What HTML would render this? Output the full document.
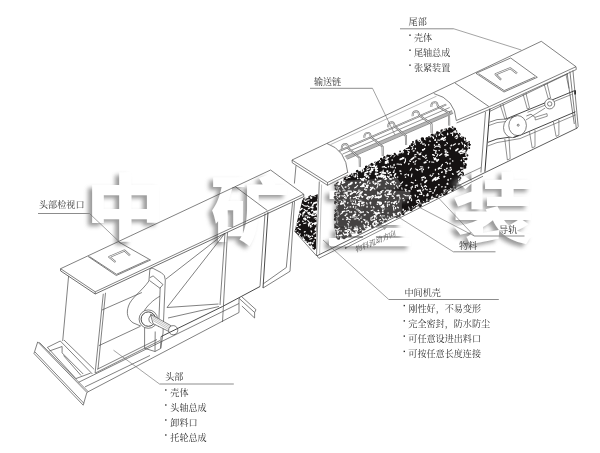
<!DOCTYPE html>
<html><head><meta charset="utf-8"><title>diagram</title>
<style>
html,body{margin:0;padding:0;background:#fff;font-family:"Liberation Sans",sans-serif;}
svg{display:block}
</style></head><body>
<svg width="600" height="453" viewBox="0 0 600 453">
<defs>
<filter id="b1" x="-20%" y="-20%" width="140%" height="140%"><feGaussianBlur stdDeviation="2.1"/></filter>
<filter id="b0" x="-20%" y="-20%" width="140%" height="140%"><feGaussianBlur stdDeviation="0.7"/></filter>
<g id="wm" font-family="'Liberation Sans','Noto Sans CJK SC',sans-serif" font-weight="900" font-size="100"><text transform="translate(85.6 233.5) scale(0.80 0.72)">中</text><text transform="translate(210.42 238.46) scale(0.7911 0.7396)">矿</text><text transform="translate(325.25 241.00) scale(0.8923 0.7351)">重</text><text transform="translate(452.35 236.64) scale(0.8229 0.7560)">装</text></g><mask id="wmm" maskUnits="userSpaceOnUse" x="0" y="0" width="600" height="453"><rect width="600" height="453" fill="#fff"/><use href="#wm" fill="#000" filter="url(#b0)"/></mask>
<filter id="tb" x="-5%" y="-5%" width="110%" height="110%"><feGaussianBlur stdDeviation="0.25"/></filter>
</defs>
<rect width="600" height="453" fill="#fff"/>
<path d="M337.0 184.0 L342.5 181.5 L350.0 177.0 L360.0 171.0 L369.0 166.5 L378.0 161.0 L388.0 157.5 L400.0 154.0 L409.0 148.0 L416.0 142.5 L424.0 140.0 L431.0 137.0 L440.0 133.5 L446.0 129.5 L450.0 127.5 L455.0 131.0 L462.0 137.0 L469.0 143.5 L467.0 150.0 L465.0 156.0 L463.5 165.0 L462.5 172.0 L459.0 180.0 L455.5 186.5 L440.0 194.5 L420.0 204.0 L400.0 213.5 L380.0 222.0 L360.0 230.0 L345.0 236.0 L337.5 238.0 L336.5 225.0 L336.5 205.0Z" fill="#151212" stroke="#111" stroke-width="0.6" stroke-linejoin="round"/>
<path d="M334.2 185.2a1.5 1.5 0 1 0 3.0 0a1.5 1.5 0 1 0 -3.0 0M336.7 183.2a1.3 1.3 0 1 0 2.5 0a1.3 1.3 0 1 0 -2.5 0M340.2 183.3a1.0 1.0 0 1 0 2.0 0a1.0 1.0 0 1 0 -2.0 0M339.7 182.6a1.2 1.2 0 1 0 2.5 0a1.2 1.2 0 1 0 -2.5 0M343.6 178.9a1.3 1.3 0 1 0 2.5 0a1.3 1.3 0 1 0 -2.5 0M344.6 178.8a1.7 1.7 0 1 0 3.3 0a1.7 1.7 0 1 0 -3.3 0M347.4 177.2a0.9 0.9 0 1 0 1.8 0a0.9 0.9 0 1 0 -1.8 0M347.4 179.4a1.2 1.2 0 1 0 2.4 0a1.2 1.2 0 1 0 -2.4 0M348.1 176.7a0.9 0.9 0 1 0 1.8 0a0.9 0.9 0 1 0 -1.8 0M349.2 175.9a1.3 1.3 0 1 0 2.6 0a1.3 1.3 0 1 0 -2.6 0M350.9 174.4a1.1 1.1 0 1 0 2.2 0a1.1 1.1 0 1 0 -2.2 0M353.2 173.7a0.9 0.9 0 1 0 1.8 0a0.9 0.9 0 1 0 -1.8 0M355.4 173.8a1.4 1.4 0 1 0 2.8 0a1.4 1.4 0 1 0 -2.8 0M354.5 174.4a1.6 1.6 0 1 0 3.2 0a1.6 1.6 0 1 0 -3.2 0M355.8 171.3a1.5 1.5 0 1 0 3.0 0a1.5 1.5 0 1 0 -3.0 0M359.5 172.5a1.2 1.2 0 1 0 2.5 0a1.2 1.2 0 1 0 -2.5 0M361.5 170.8a1.1 1.1 0 1 0 2.3 0a1.1 1.1 0 1 0 -2.3 0M361.7 170.8a1.6 1.6 0 1 0 3.2 0a1.6 1.6 0 1 0 -3.2 0M363.6 169.1a0.9 0.9 0 1 0 1.9 0a0.9 0.9 0 1 0 -1.9 0M363.9 169.0a1.2 1.2 0 1 0 2.5 0a1.2 1.2 0 1 0 -2.5 0M364.9 167.4a1.5 1.5 0 1 0 2.9 0a1.5 1.5 0 1 0 -2.9 0M368.3 166.1a1.3 1.3 0 1 0 2.5 0a1.3 1.3 0 1 0 -2.5 0M369.2 166.5a1.3 1.3 0 1 0 2.6 0a1.3 1.3 0 1 0 -2.6 0M370.7 164.6a0.9 0.9 0 1 0 1.8 0a0.9 0.9 0 1 0 -1.8 0M370.3 164.4a1.7 1.7 0 1 0 3.4 0a1.7 1.7 0 1 0 -3.4 0M374.3 162.5a1.0 1.0 0 1 0 2.1 0a1.0 1.0 0 1 0 -2.1 0M375.0 163.6a1.5 1.5 0 1 0 3.0 0a1.5 1.5 0 1 0 -3.0 0M377.0 162.2a1.1 1.1 0 1 0 2.2 0a1.1 1.1 0 1 0 -2.2 0M378.4 162.0a1.4 1.4 0 1 0 2.7 0a1.4 1.4 0 1 0 -2.7 0M379.9 159.0a1.3 1.3 0 1 0 2.7 0a1.3 1.3 0 1 0 -2.7 0M383.0 157.6a1.5 1.5 0 1 0 3.1 0a1.5 1.5 0 1 0 -3.1 0M384.3 160.0a1.5 1.5 0 1 0 3.0 0a1.5 1.5 0 1 0 -3.0 0M386.0 158.1a1.3 1.3 0 1 0 2.7 0a1.3 1.3 0 1 0 -2.7 0M386.2 156.0a1.6 1.6 0 1 0 3.2 0a1.6 1.6 0 1 0 -3.2 0M388.6 156.0a1.3 1.3 0 1 0 2.6 0a1.3 1.3 0 1 0 -2.6 0M390.2 156.0a1.2 1.2 0 1 0 2.4 0a1.2 1.2 0 1 0 -2.4 0M391.9 156.4a1.4 1.4 0 1 0 2.8 0a1.4 1.4 0 1 0 -2.8 0M393.6 153.9a1.1 1.1 0 1 0 2.2 0a1.1 1.1 0 1 0 -2.2 0M393.9 155.3a1.6 1.6 0 1 0 3.2 0a1.6 1.6 0 1 0 -3.2 0M397.7 155.5a1.6 1.6 0 1 0 3.1 0a1.6 1.6 0 1 0 -3.1 0M397.7 155.2a1.4 1.4 0 1 0 2.9 0a1.4 1.4 0 1 0 -2.9 0M399.2 151.4a0.9 0.9 0 1 0 1.8 0a0.9 0.9 0 1 0 -1.8 0M402.9 151.1a1.0 1.0 0 1 0 2.0 0a1.0 1.0 0 1 0 -2.0 0M404.0 150.5a1.0 1.0 0 1 0 1.9 0a1.0 1.0 0 1 0 -1.9 0M403.8 150.1a1.0 1.0 0 1 0 2.1 0a1.0 1.0 0 1 0 -2.1 0M405.5 149.7a1.3 1.3 0 1 0 2.5 0a1.3 1.3 0 1 0 -2.5 0M407.5 147.9a0.9 0.9 0 1 0 1.8 0a0.9 0.9 0 1 0 -1.8 0M409.0 146.6a1.1 1.1 0 1 0 2.1 0a1.1 1.1 0 1 0 -2.1 0M409.2 147.2a1.3 1.3 0 1 0 2.6 0a1.3 1.3 0 1 0 -2.6 0M410.7 145.1a1.6 1.6 0 1 0 3.1 0a1.6 1.6 0 1 0 -3.1 0M412.0 142.0a1.0 1.0 0 1 0 2.0 0a1.0 1.0 0 1 0 -2.0 0M415.3 141.3a1.5 1.5 0 1 0 2.9 0a1.5 1.5 0 1 0 -2.9 0M417.1 142.2a1.1 1.1 0 1 0 2.2 0a1.1 1.1 0 1 0 -2.2 0M419.5 142.5a1.3 1.3 0 1 0 2.6 0a1.3 1.3 0 1 0 -2.6 0M418.6 141.5a1.2 1.2 0 1 0 2.4 0a1.2 1.2 0 1 0 -2.4 0M421.3 139.9a1.4 1.4 0 1 0 2.8 0a1.4 1.4 0 1 0 -2.8 0M420.8 139.3a1.7 1.7 0 1 0 3.3 0a1.7 1.7 0 1 0 -3.3 0M425.4 138.6a1.6 1.6 0 1 0 3.2 0a1.6 1.6 0 1 0 -3.2 0M425.4 140.0a1.5 1.5 0 1 0 3.0 0a1.5 1.5 0 1 0 -3.0 0M428.1 136.9a0.9 0.9 0 1 0 1.8 0a0.9 0.9 0 1 0 -1.8 0M430.7 135.4a1.6 1.6 0 1 0 3.1 0a1.6 1.6 0 1 0 -3.1 0M433.0 136.7a1.0 1.0 0 1 0 2.1 0a1.0 1.0 0 1 0 -2.1 0M433.8 137.4a1.5 1.5 0 1 0 2.9 0a1.5 1.5 0 1 0 -2.9 0M434.4 134.8a1.2 1.2 0 1 0 2.4 0a1.2 1.2 0 1 0 -2.4 0M434.8 135.3a1.2 1.2 0 1 0 2.5 0a1.2 1.2 0 1 0 -2.5 0M436.0 132.7a1.4 1.4 0 1 0 2.9 0a1.4 1.4 0 1 0 -2.9 0M438.1 133.5a1.2 1.2 0 1 0 2.3 0a1.2 1.2 0 1 0 -2.3 0M441.8 133.9a0.9 0.9 0 1 0 1.8 0a0.9 0.9 0 1 0 -1.8 0M440.3 130.9a1.7 1.7 0 1 0 3.4 0a1.7 1.7 0 1 0 -3.4 0M444.4 130.0a1.1 1.1 0 1 0 2.1 0a1.1 1.1 0 1 0 -2.1 0M444.9 130.6a1.6 1.6 0 1 0 3.3 0a1.6 1.6 0 1 0 -3.3 0M446.0 129.8a1.4 1.4 0 1 0 2.9 0a1.4 1.4 0 1 0 -2.9 0M448.9 129.2a1.1 1.1 0 1 0 2.2 0a1.1 1.1 0 1 0 -2.2 0M451.4 127.3a1.0 1.0 0 1 0 2.1 0a1.0 1.0 0 1 0 -2.1 0M453.2 128.9a1.5 1.5 0 1 0 3.0 0a1.5 1.5 0 1 0 -3.0 0M454.1 132.2a1.2 1.2 0 1 0 2.4 0a1.2 1.2 0 1 0 -2.4 0M454.3 131.5a1.6 1.6 0 1 0 3.2 0a1.6 1.6 0 1 0 -3.2 0M456.5 134.9a1.6 1.6 0 1 0 3.2 0a1.6 1.6 0 1 0 -3.2 0M457.0 134.8a1.0 1.0 0 1 0 2.0 0a1.0 1.0 0 1 0 -2.0 0M457.4 134.3a1.6 1.6 0 1 0 3.2 0a1.6 1.6 0 1 0 -3.2 0M461.8 138.1a1.2 1.2 0 1 0 2.3 0a1.2 1.2 0 1 0 -2.3 0M462.6 139.3a1.2 1.2 0 1 0 2.4 0a1.2 1.2 0 1 0 -2.4 0M464.1 138.7a1.0 1.0 0 1 0 1.9 0a1.0 1.0 0 1 0 -1.9 0M464.1 142.2a1.4 1.4 0 1 0 2.7 0a1.4 1.4 0 1 0 -2.7 0M467.9 142.1a1.1 1.1 0 1 0 2.2 0a1.1 1.1 0 1 0 -2.2 0M469.1 144.6a0.9 0.9 0 1 0 1.8 0a0.9 0.9 0 1 0 -1.8 0M468.1 143.7a1.0 1.0 0 1 0 2.0 0a1.0 1.0 0 1 0 -2.0 0M468.2 145.2a1.1 1.1 0 1 0 2.2 0a1.1 1.1 0 1 0 -2.2 0M468.2 148.1a1.0 1.0 0 1 0 2.0 0a1.0 1.0 0 1 0 -2.0 0M464.4 149.1a1.5 1.5 0 1 0 3.0 0a1.5 1.5 0 1 0 -3.0 0M463.8 153.4a1.2 1.2 0 1 0 2.4 0a1.2 1.2 0 1 0 -2.4 0M466.1 155.4a1.1 1.1 0 1 0 2.3 0a1.1 1.1 0 1 0 -2.3 0M463.2 155.9a1.0 1.0 0 1 0 2.0 0a1.0 1.0 0 1 0 -2.0 0M464.3 156.2a0.9 0.9 0 1 0 1.8 0a0.9 0.9 0 1 0 -1.8 0M464.7 158.9a1.4 1.4 0 1 0 2.8 0a1.4 1.4 0 1 0 -2.8 0M463.0 160.8a1.0 1.0 0 1 0 1.9 0a1.0 1.0 0 1 0 -1.9 0M463.5 164.8a1.7 1.7 0 1 0 3.4 0a1.7 1.7 0 1 0 -3.4 0M460.8 164.0a1.4 1.4 0 1 0 2.8 0a1.4 1.4 0 1 0 -2.8 0M463.4 166.9a1.5 1.5 0 1 0 2.9 0a1.5 1.5 0 1 0 -2.9 0M462.2 167.7a1.3 1.3 0 1 0 2.7 0a1.3 1.3 0 1 0 -2.7 0M461.1 169.4a1.0 1.0 0 1 0 1.9 0a1.0 1.0 0 1 0 -1.9 0M460.5 173.6a1.3 1.3 0 1 0 2.5 0a1.3 1.3 0 1 0 -2.5 0M460.7 174.1a1.7 1.7 0 1 0 3.3 0a1.7 1.7 0 1 0 -3.3 0M459.6 174.5a1.2 1.2 0 1 0 2.3 0a1.2 1.2 0 1 0 -2.3 0M458.2 178.0a1.6 1.6 0 1 0 3.2 0a1.6 1.6 0 1 0 -3.2 0M457.7 177.8a1.3 1.3 0 1 0 2.7 0a1.3 1.3 0 1 0 -2.7 0M458.2 180.3a1.1 1.1 0 1 0 2.2 0a1.1 1.1 0 1 0 -2.2 0M455.5 180.8a1.0 1.0 0 1 0 1.9 0a1.0 1.0 0 1 0 -1.9 0M456.5 181.8a1.0 1.0 0 1 0 1.9 0a1.0 1.0 0 1 0 -1.9 0M455.3 184.2a1.5 1.5 0 1 0 3.1 0a1.5 1.5 0 1 0 -3.1 0M454.5 187.7a1.0 1.0 0 1 0 2.0 0a1.0 1.0 0 1 0 -2.0 0M453.0 188.3a1.0 1.0 0 1 0 1.9 0a1.0 1.0 0 1 0 -1.9 0M452.4 187.0a1.5 1.5 0 1 0 3.0 0a1.5 1.5 0 1 0 -3.0 0M451.3 190.0a1.2 1.2 0 1 0 2.3 0a1.2 1.2 0 1 0 -2.3 0M446.3 189.7a1.6 1.6 0 1 0 3.3 0a1.6 1.6 0 1 0 -3.3 0M446.0 191.8a1.0 1.0 0 1 0 2.0 0a1.0 1.0 0 1 0 -2.0 0M446.4 189.7a1.2 1.2 0 1 0 2.3 0a1.2 1.2 0 1 0 -2.3 0M444.4 193.1a1.6 1.6 0 1 0 3.3 0a1.6 1.6 0 1 0 -3.3 0M442.8 193.7a1.5 1.5 0 1 0 2.9 0a1.5 1.5 0 1 0 -2.9 0M439.4 193.5a1.0 1.0 0 1 0 2.1 0a1.0 1.0 0 1 0 -2.1 0M439.6 195.1a1.1 1.1 0 1 0 2.2 0a1.1 1.1 0 1 0 -2.2 0M435.4 196.8a1.5 1.5 0 1 0 3.1 0a1.5 1.5 0 1 0 -3.1 0M435.5 196.1a1.6 1.6 0 1 0 3.2 0a1.6 1.6 0 1 0 -3.2 0M434.1 196.3a1.2 1.2 0 1 0 2.3 0a1.2 1.2 0 1 0 -2.3 0M431.6 195.8a1.4 1.4 0 1 0 2.8 0a1.4 1.4 0 1 0 -2.8 0M431.1 198.4a0.9 0.9 0 1 0 1.9 0a0.9 0.9 0 1 0 -1.9 0M429.3 197.7a1.0 1.0 0 1 0 2.0 0a1.0 1.0 0 1 0 -2.0 0M427.2 200.7a1.2 1.2 0 1 0 2.4 0a1.2 1.2 0 1 0 -2.4 0M426.3 200.7a1.1 1.1 0 1 0 2.2 0a1.1 1.1 0 1 0 -2.2 0M423.2 201.2a1.3 1.3 0 1 0 2.6 0a1.3 1.3 0 1 0 -2.6 0M423.7 201.6a1.4 1.4 0 1 0 2.9 0a1.4 1.4 0 1 0 -2.9 0M422.6 201.6a1.3 1.3 0 1 0 2.6 0a1.3 1.3 0 1 0 -2.6 0M420.2 202.3a1.2 1.2 0 1 0 2.5 0a1.2 1.2 0 1 0 -2.5 0M418.6 205.4a1.6 1.6 0 1 0 3.3 0a1.6 1.6 0 1 0 -3.3 0M416.8 205.2a0.9 0.9 0 1 0 1.9 0a0.9 0.9 0 1 0 -1.9 0M413.9 205.5a1.6 1.6 0 1 0 3.2 0a1.6 1.6 0 1 0 -3.2 0M412.6 207.1a1.6 1.6 0 1 0 3.2 0a1.6 1.6 0 1 0 -3.2 0M411.6 207.6a1.6 1.6 0 1 0 3.2 0a1.6 1.6 0 1 0 -3.2 0M410.4 208.3a1.5 1.5 0 1 0 3.0 0a1.5 1.5 0 1 0 -3.0 0M409.5 209.6a1.6 1.6 0 1 0 3.2 0a1.6 1.6 0 1 0 -3.2 0M409.8 209.4a1.0 1.0 0 1 0 2.1 0a1.0 1.0 0 1 0 -2.1 0M405.5 208.9a1.4 1.4 0 1 0 2.7 0a1.4 1.4 0 1 0 -2.7 0M405.6 209.1a1.4 1.4 0 1 0 2.9 0a1.4 1.4 0 1 0 -2.9 0M404.0 210.8a1.3 1.3 0 1 0 2.6 0a1.3 1.3 0 1 0 -2.6 0M401.0 212.8a0.9 0.9 0 1 0 1.9 0a0.9 0.9 0 1 0 -1.9 0M401.8 213.8a1.4 1.4 0 1 0 2.8 0a1.4 1.4 0 1 0 -2.8 0M397.5 214.9a1.7 1.7 0 1 0 3.3 0a1.7 1.7 0 1 0 -3.3 0M395.7 215.1a1.6 1.6 0 1 0 3.1 0a1.6 1.6 0 1 0 -3.1 0M396.2 215.5a1.3 1.3 0 1 0 2.5 0a1.3 1.3 0 1 0 -2.5 0M395.6 217.1a1.2 1.2 0 1 0 2.4 0a1.2 1.2 0 1 0 -2.4 0M393.8 215.9a1.0 1.0 0 1 0 2.1 0a1.0 1.0 0 1 0 -2.1 0M390.1 215.5a1.6 1.6 0 1 0 3.3 0a1.6 1.6 0 1 0 -3.3 0M391.0 216.1a1.4 1.4 0 1 0 2.8 0a1.4 1.4 0 1 0 -2.8 0M387.8 216.8a1.1 1.1 0 1 0 2.3 0a1.1 1.1 0 1 0 -2.3 0M385.9 219.6a0.9 0.9 0 1 0 1.8 0a0.9 0.9 0 1 0 -1.8 0M384.2 219.2a0.9 0.9 0 1 0 1.8 0a0.9 0.9 0 1 0 -1.8 0M383.5 220.4a1.6 1.6 0 1 0 3.1 0a1.6 1.6 0 1 0 -3.1 0M380.7 220.0a1.3 1.3 0 1 0 2.7 0a1.3 1.3 0 1 0 -2.7 0M379.7 221.6a1.1 1.1 0 1 0 2.2 0a1.1 1.1 0 1 0 -2.2 0M379.1 223.0a1.5 1.5 0 1 0 3.1 0a1.5 1.5 0 1 0 -3.1 0M378.8 222.8a1.3 1.3 0 1 0 2.6 0a1.3 1.3 0 1 0 -2.6 0M376.8 224.1a1.4 1.4 0 1 0 2.7 0a1.4 1.4 0 1 0 -2.7 0M374.0 223.1a1.0 1.0 0 1 0 2.0 0a1.0 1.0 0 1 0 -2.0 0M373.4 223.2a1.5 1.5 0 1 0 3.0 0a1.5 1.5 0 1 0 -3.0 0M371.0 226.7a1.5 1.5 0 1 0 3.0 0a1.5 1.5 0 1 0 -3.0 0M371.1 224.5a1.3 1.3 0 1 0 2.6 0a1.3 1.3 0 1 0 -2.6 0M368.2 225.7a1.3 1.3 0 1 0 2.6 0a1.3 1.3 0 1 0 -2.6 0M366.3 227.0a0.9 0.9 0 1 0 1.8 0a0.9 0.9 0 1 0 -1.8 0M364.8 227.4a1.1 1.1 0 1 0 2.3 0a1.1 1.1 0 1 0 -2.3 0M362.8 229.1a1.4 1.4 0 1 0 2.9 0a1.4 1.4 0 1 0 -2.9 0M361.8 229.3a1.2 1.2 0 1 0 2.4 0a1.2 1.2 0 1 0 -2.4 0M359.4 227.7a1.1 1.1 0 1 0 2.2 0a1.1 1.1 0 1 0 -2.2 0M358.8 231.3a1.6 1.6 0 1 0 3.1 0a1.6 1.6 0 1 0 -3.1 0M357.3 232.3a1.3 1.3 0 1 0 2.5 0a1.3 1.3 0 1 0 -2.5 0M356.6 230.9a1.5 1.5 0 1 0 3.0 0a1.5 1.5 0 1 0 -3.0 0M356.1 231.1a1.0 1.0 0 1 0 2.1 0a1.0 1.0 0 1 0 -2.1 0M353.2 232.5a1.2 1.2 0 1 0 2.4 0a1.2 1.2 0 1 0 -2.4 0M349.6 232.6a1.2 1.2 0 1 0 2.5 0a1.2 1.2 0 1 0 -2.5 0M349.3 234.8a1.4 1.4 0 1 0 2.7 0a1.4 1.4 0 1 0 -2.7 0M348.8 235.6a1.5 1.5 0 1 0 3.0 0a1.5 1.5 0 1 0 -3.0 0M346.6 235.6a1.4 1.4 0 1 0 2.8 0a1.4 1.4 0 1 0 -2.8 0M345.8 235.8a1.2 1.2 0 1 0 2.5 0a1.2 1.2 0 1 0 -2.5 0M343.8 236.5a1.6 1.6 0 1 0 3.3 0a1.6 1.6 0 1 0 -3.3 0M342.6 237.7a1.5 1.5 0 1 0 3.0 0a1.5 1.5 0 1 0 -3.0 0M341.1 237.4a1.2 1.2 0 1 0 2.4 0a1.2 1.2 0 1 0 -2.4 0M337.0 238.2a1.6 1.6 0 1 0 3.2 0a1.6 1.6 0 1 0 -3.2 0M336.1 236.8a1.6 1.6 0 1 0 3.1 0a1.6 1.6 0 1 0 -3.1 0M336.4 236.3a0.9 0.9 0 1 0 1.9 0a0.9 0.9 0 1 0 -1.9 0M336.0 235.6a1.2 1.2 0 1 0 2.5 0a1.2 1.2 0 1 0 -2.5 0M335.7 233.7a0.9 0.9 0 1 0 1.8 0a0.9 0.9 0 1 0 -1.8 0M335.6 233.0a1.5 1.5 0 1 0 2.9 0a1.5 1.5 0 1 0 -2.9 0M335.2 230.5a1.4 1.4 0 1 0 2.8 0a1.4 1.4 0 1 0 -2.8 0M334.2 227.3a1.6 1.6 0 1 0 3.2 0a1.6 1.6 0 1 0 -3.2 0M334.3 225.2a1.6 1.6 0 1 0 3.1 0a1.6 1.6 0 1 0 -3.1 0M335.3 224.6a1.3 1.3 0 1 0 2.6 0a1.3 1.3 0 1 0 -2.6 0M335.9 222.2a1.4 1.4 0 1 0 2.8 0a1.4 1.4 0 1 0 -2.8 0M336.1 222.7a1.1 1.1 0 1 0 2.2 0a1.1 1.1 0 1 0 -2.2 0M335.5 219.1a1.3 1.3 0 1 0 2.7 0a1.3 1.3 0 1 0 -2.7 0M333.8 219.3a1.6 1.6 0 1 0 3.2 0a1.6 1.6 0 1 0 -3.2 0M334.2 215.7a1.7 1.7 0 1 0 3.3 0a1.7 1.7 0 1 0 -3.3 0M336.3 216.2a0.9 0.9 0 1 0 1.8 0a0.9 0.9 0 1 0 -1.8 0M336.7 213.7a1.2 1.2 0 1 0 2.3 0a1.2 1.2 0 1 0 -2.3 0M334.7 212.6a1.5 1.5 0 1 0 3.1 0a1.5 1.5 0 1 0 -3.1 0M334.4 210.4a1.0 1.0 0 1 0 2.1 0a1.0 1.0 0 1 0 -2.1 0M336.5 208.1a1.6 1.6 0 1 0 3.3 0a1.6 1.6 0 1 0 -3.3 0M336.2 207.0a1.1 1.1 0 1 0 2.2 0a1.1 1.1 0 1 0 -2.2 0M335.6 203.8a1.0 1.0 0 1 0 2.0 0a1.0 1.0 0 1 0 -2.0 0M335.8 202.9a1.5 1.5 0 1 0 3.0 0a1.5 1.5 0 1 0 -3.0 0M334.2 202.5a1.5 1.5 0 1 0 2.9 0a1.5 1.5 0 1 0 -2.9 0M334.7 198.8a1.2 1.2 0 1 0 2.4 0a1.2 1.2 0 1 0 -2.4 0M335.6 197.2a1.0 1.0 0 1 0 2.1 0a1.0 1.0 0 1 0 -2.1 0M333.6 197.3a1.6 1.6 0 1 0 3.2 0a1.6 1.6 0 1 0 -3.2 0M334.3 193.7a1.5 1.5 0 1 0 2.9 0a1.5 1.5 0 1 0 -2.9 0M336.4 195.3a1.4 1.4 0 1 0 2.8 0a1.4 1.4 0 1 0 -2.8 0M335.3 193.2a1.0 1.0 0 1 0 2.0 0a1.0 1.0 0 1 0 -2.0 0M336.3 189.1a1.2 1.2 0 1 0 2.4 0a1.2 1.2 0 1 0 -2.4 0M335.8 188.4a1.0 1.0 0 1 0 2.1 0a1.0 1.0 0 1 0 -2.1 0M334.7 188.3a1.3 1.3 0 1 0 2.5 0a1.3 1.3 0 1 0 -2.5 0M335.8 184.6a1.5 1.5 0 1 0 2.9 0a1.5 1.5 0 1 0 -2.9 0" fill="#151212"/>
<path d="M338.6 184.2l-1.1 0.0M342.2 180.6l0.7 1.8M345.1 180.3l-0.9 0.9M346.8 177.6l-0.5 0.9M348.9 177.3l-2.1 1.2M348.7 177.4l1.4 0.2M352.6 173.6l-0.9 2.0M356.9 172.3l0.7 1.9M358.9 170.4l2.5 0.5M361.7 169.4l-0.3 1.8M362.0 168.6l2.0 1.4M368.3 166.9l-1.5 1.6M369.2 165.7l2.2 1.1M372.6 162.9l2.2 0.7M373.4 163.8l1.8 0.2M376.9 160.6l-1.5 1.9M378.6 160.0l-0.9 0.7M380.1 160.0l0.7 1.0M385.0 158.4l1.0 1.4M385.7 156.9l1.1 2.0M391.4 155.3l-0.8 1.5M394.9 155.5l-1.1 1.5M396.5 154.3l1.4 0.8M398.0 153.7l-0.2 1.0M401.6 151.8l0.9 1.3M403.4 151.4l-0.1 1.2M405.0 149.1l2.5 0.6M409.6 149.4l-2.3 0.2M411.0 146.4l1.7 0.8M414.1 144.7l-1.3 1.8M415.0 143.1l0.5 1.7M417.7 140.7l1.9 0.9M420.5 139.7l0.6 2.1M420.4 140.4l0.8 0.9M424.6 139.5l1.1 0.3M431.2 136.5l-0.9 0.4M431.9 136.0l1.5 1.9M436.1 134.8l0.5 2.0M440.1 133.6l-1.5 1.7M443.4 130.2l-1.6 1.6M445.6 129.9l-2.1 0.8M447.5 128.2l0.2 1.3M450.4 127.0l1.4 0.5M455.2 130.6l-0.3 1.9M457.4 131.5l-2.1 1.4M458.0 132.8l1.1 1.5M460.2 136.4l1.8 1.0M464.4 138.5l0.7 1.5M468.3 141.1l-2.4 0.8M469.1 142.6l-1.3 1.0M468.1 145.1l0.2 1.2M466.9 146.8l1.2 0.7M467.0 152.2l-1.4 0.0M465.6 153.8l0.5 2.2M466.2 157.3l-2.1 0.2M463.5 159.7l0.8 0.7M463.5 162.5l0.7 2.1M463.4 168.1l-1.9 0.0M463.1 171.0l-1.2 0.1M461.1 173.5l1.3 0.5M462.0 175.4l-2.0 1.0M459.1 178.3l-0.7 1.3M459.3 180.8l-1.0 0.5M457.3 183.2l-0.1 1.7M454.0 186.1l0.1 2.4M450.6 188.2l0.9 1.5M452.3 189.1l-2.5 0.6M448.0 190.0l-1.7 1.6M444.0 191.9l0.3 1.2M443.1 193.5l-1.8 0.2M437.2 194.3l1.3 1.6M436.3 195.0l0.1 1.5M433.5 197.4l-1.1 1.5M432.6 197.4l-1.0 2.1M427.2 199.8l0.6 1.0M426.9 198.9l-0.3 2.1M423.1 201.3l1.5 1.1M419.4 203.0l1.5 0.1M418.5 203.2l-1.4 2.2M416.0 205.6l1.5 0.1M414.5 206.5l-0.6 0.9M412.3 206.4l0.8 1.2M408.7 207.0l0.8 2.4M404.9 210.3l1.2 1.4M405.7 210.7l-1.7 1.2M400.3 212.9l0.6 2.0M398.6 213.5l-0.2 1.6M394.6 215.4l1.8 0.3M394.2 215.0l-0.2 1.4M391.7 216.4l0.3 1.1M389.5 217.1l-0.3 2.3M385.4 218.0l1.2 1.7M385.9 219.2l-1.3 0.5M381.5 221.4l-1.2 0.4M376.8 222.4l1.8 0.7M377.3 223.3l-0.3 1.0M372.9 224.3l0.7 1.8M370.5 225.5l-0.5 1.6M366.7 227.0l1.7 0.3M367.1 226.2l1.2 0.2M363.8 226.9l1.7 1.9M361.1 230.0l-1.2 0.7M357.3 230.3l0.5 1.1M356.9 231.2l-1.4 0.6M353.3 232.9l1.7 0.3M351.0 232.8l0.4 2.1M349.1 232.9l-1.3 2.1M346.8 234.2l1.0 1.9M340.2 236.5l0.8 2.2M340.3 235.4l1.3 2.2M337.7 235.3l0.2 1.8M337.3 232.0l0.3 1.8M337.0 231.5l1.4 0.7M335.2 228.6l1.9 1.2M335.9 224.9l2.3 1.2M336.9 220.9l0.6 1.9M337.0 219.6l0.3 0.9M337.6 217.0l-0.8 1.4M337.6 216.4l-1.3 0.2M337.5 211.0l-2.0 1.5M337.3 208.1l-0.9 1.6M337.3 205.8l-0.7 1.5M337.5 203.4l-1.4 0.1M336.8 201.4l1.1 1.3M336.9 197.7l1.0 1.6M336.0 195.4l1.4 0.8M336.0 193.4l0.5 1.1M337.8 189.8l-0.8 2.0M336.0 187.3l0.7 1.3M335.9 184.3l0.9 0.9" stroke="#fff" stroke-width="0.9" stroke-linecap="round" fill="none"/>
<path d="M435.5 169.5l-0.1 0.5M447.6 152.3l0.1 0.2M363.1 211.6l0.2 0.5M445.8 186.9l-0.6 0.2M415.4 148.3l-0.0 0.4M355.9 227.5l0.3 0.4M395.4 182.8l0.4 0.0M364.7 226.4l0.3 0.2M345.3 197.0l-0.7 0.5M409.0 190.8l0.8 0.2M373.8 207.6l0.2 0.2M378.6 210.3l-0.5 0.2M353.6 192.3l0.2 0.1M337.5 235.9l0.5 0.1M427.2 160.3l0.0 0.1M406.0 189.6l-0.1 0.3M375.5 173.6l-0.1 0.8M336.5 205.1l0.4 0.5M404.6 162.3l-0.1 0.5M371.4 168.5l0.4 0.3M344.7 208.3l-0.1 0.0M380.1 172.4l0.6 0.0M456.9 138.2l-0.7 0.3M374.5 165.2l-0.2 0.7M435.5 140.2l-0.3 0.2M369.8 174.1l0.2 0.2M423.8 195.4l0.1 0.3M385.5 177.7l0.2 0.4M352.2 232.3l0.6 0.1M378.2 183.8l-0.8 0.3M408.4 175.0l-0.1 0.5M383.3 175.3l0.7 0.2M344.9 200.2l-0.2 0.1M380.0 162.0l-0.3 0.2M375.1 197.5l0.8 0.1M433.0 154.8l0.6 0.1M394.5 203.4l-0.1 0.1M360.5 228.0l-0.2 0.5M393.2 177.8l-0.1 0.6M337.1 235.8l0.6 0.2M387.5 176.3l0.7 0.4M408.3 174.6l-0.2 0.2M417.1 152.1l0.6 0.5M386.0 162.9l0.3 0.4M413.3 162.0l0.4 0.2M400.6 171.0l0.2 0.2M389.3 204.5l-0.2 0.4M417.3 169.7l0.5 0.6M399.7 185.6l-0.5 0.6M350.7 206.9l-0.6 0.0M382.7 210.2l0.1 0.5M425.3 177.6l-0.2 0.7M396.8 203.2l-0.2 0.7M369.0 198.1l0.0 0.1M345.6 215.5l-0.5 0.0M408.0 201.8l-0.2 0.4M345.5 192.9l-0.2 0.1M417.4 190.6l0.2 0.5M373.1 195.6l0.2 0.9M404.2 200.0l-0.3 0.6M415.5 180.2l0.1 0.2M446.2 156.0l-0.3 0.2M395.6 207.7l-0.1 0.9M417.5 186.0l-0.1 0.1M409.7 161.0l0.7 0.4M370.7 203.8l-0.2 0.0M394.0 184.4l0.5 0.2M375.3 195.5l-0.1 0.3M347.6 194.9l0.1 0.1M359.4 196.7l-0.5 0.2M429.6 161.8l-0.3 0.2M365.2 214.7l-0.2 0.2M420.9 183.9l0.0 0.2M365.1 194.5l-0.4 0.1M338.0 213.8l-0.2 0.0M339.7 235.5l0.5 0.0M457.4 136.8l0.3 0.2M371.1 187.4l-0.5 0.2M399.9 171.0l0.1 0.1M433.3 192.9l-0.6 0.2M387.8 157.5l0.7 0.1M339.3 190.3l0.4 0.3M338.7 215.9l-0.5 0.3M337.3 186.6l-0.3 0.7M390.6 183.7l0.6 0.6M347.0 219.3l-0.3 0.3M447.2 183.3l-0.0 0.9M393.2 205.7l-0.2 0.2M355.9 206.9l-0.2 0.1M375.9 221.3l0.4 0.2M373.4 206.9l0.1 0.3M371.3 169.9l0.3 0.1M395.0 191.8l-0.6 0.5M444.4 176.5l-0.3 0.6M370.8 202.3l-0.7 0.5M403.4 198.4l-0.4 0.1M434.4 145.0l0.2 0.2M346.8 217.4l0.6 0.2M347.9 223.7l0.3 0.1M464.5 151.9l-0.6 0.5M460.6 167.9l0.6 0.2M373.2 168.5l-0.6 0.6M417.8 152.6l0.3 0.6M393.0 196.4l0.3 0.1M363.8 219.6l0.6 0.5M447.5 163.4l-0.1 0.3M457.1 135.3l-0.4 0.6M366.0 179.6l0.1 0.1M359.5 210.6l-0.6 0.5M392.3 196.1l0.6 0.1M448.1 179.5l0.0 0.7M374.8 215.6l0.2 0.4M454.2 131.8l-0.5 0.0M394.1 206.2l-0.0 0.1M364.2 215.0l0.1 0.1M442.3 171.9l-0.7 0.5M346.3 197.9l-0.4 0.6M421.4 186.1l0.1 0.1M447.6 133.3l0.1 0.2M424.7 148.6l-0.3 0.2M365.5 222.4l-0.0 0.3M358.1 198.7l-0.1 0.3M439.1 150.5l0.1 0.0M385.1 194.5l0.0 0.4M451.3 169.1l-0.1 0.5M374.0 219.4l0.6 0.1M353.5 206.5l-0.2 0.7M385.3 176.2l-0.1 0.6M450.8 178.6l0.0 0.2M362.9 180.0l0.4 0.5M373.7 219.4l0.4 0.1M364.9 219.9l0.0 0.3M369.9 183.1l-0.1 0.1M348.1 185.8l0.4 0.2M361.9 171.6l-0.4 0.2M383.8 219.3l-0.3 0.7M361.0 178.6l-0.7 0.1M338.0 236.3l0.2 0.8M459.3 143.8l-0.8 0.3M355.0 204.3l-0.2 0.0M392.9 167.0l0.1 0.5M366.0 221.5l-0.1 0.3M348.5 227.1l0.1 0.2M442.0 186.6l-0.2 0.3M344.8 200.9l0.3 0.3M379.9 184.2l-0.2 0.8M382.5 208.8l0.2 0.3M362.0 205.2l-0.2 0.5M430.0 189.1l0.1 0.1M403.2 209.3l-0.2 0.9M364.0 178.5l0.8 0.2M459.1 170.8l-0.5 0.6M352.2 203.2l0.3 0.8M414.0 150.8l-0.8 0.3M430.3 175.2l-0.1 0.4M447.4 183.5l0.5 0.5M438.6 184.7l0.6 0.2M464.1 157.7l-0.8 0.0M455.1 131.1l0.3 0.7M339.8 195.8l-0.2 0.1M369.5 197.2l0.5 0.2M415.2 164.0l-0.3 0.1M395.4 167.6l-0.0 0.2M422.6 144.0l0.4 0.2M354.8 227.3l-0.0 0.6M435.6 187.5l-0.2 0.3M388.3 196.7l-0.1 0.2M445.5 171.0l0.1 0.0M424.1 143.8l-0.0 0.1M425.3 144.8l-0.0 0.7M418.3 200.2l0.0 0.2M350.5 230.9l0.5 0.4M376.6 168.9l-0.7 0.5M375.3 179.0l0.4 0.8M343.0 219.2l-0.1 0.0M415.2 195.2l0.3 0.8M383.6 204.9l-0.6 0.6M373.3 181.7l-0.4 0.2M365.6 183.9l0.1 0.2M360.8 218.2l0.2 0.0M391.4 179.0l-0.8 0.2M350.4 216.8l0.4 0.5M450.7 167.5l-0.5 0.4M385.5 161.6l0.1 0.3M375.4 216.4l0.1 0.2M422.7 179.8l-0.7 0.3M426.8 189.6l0.4 0.2M372.3 195.6l-0.1 0.1M371.3 206.8l0.0 0.3M405.4 177.1l0.2 0.1M340.0 190.9l0.1 0.3M351.1 226.8l0.1 0.2M439.8 145.9l0.1 0.0M392.2 195.9l0.4 0.0M368.3 224.0l0.0 0.4M367.5 226.1l0.7 0.5M342.8 181.4l0.1 0.1M450.2 158.9l-0.2 0.0M357.2 175.9l0.3 0.4M368.7 177.0l0.0 0.9M356.5 198.2l0.1 0.1M432.9 180.7l-0.5 0.1M397.8 177.0l-0.2 0.1M390.3 178.7l0.1 0.1M462.9 149.1l-0.3 0.1M387.7 170.8l-0.2 0.5M406.9 185.3l-0.9 0.2M370.9 172.4l-0.1 0.1M438.5 173.7l0.3 0.6M383.1 205.6l-0.7 0.2M345.9 227.3l0.1 0.9M348.9 184.4l-0.3 0.0M366.6 189.9l-0.8 0.1M341.6 201.3l0.2 0.6M390.6 183.5l0.1 0.5M364.8 189.0l-0.3 0.2M392.0 202.5l-0.5 0.3M445.9 172.9l0.0 0.4M348.5 225.0l0.1 0.5M425.4 188.7l-0.1 0.3M376.6 217.3l-0.2 0.9M346.9 192.3l-0.7 0.4M385.2 188.0l0.1 0.1M365.9 194.5l0.3 0.6M445.9 151.4l-0.7 0.5M359.2 219.7l-0.1 0.1M372.4 216.9l-0.5 0.7M367.2 186.8l0.2 0.7M363.4 170.4l-0.1 0.5M350.6 197.5l-0.4 0.6M452.5 173.8l0.6 0.5M347.9 202.8l-0.2 0.2M389.6 178.7l0.2 0.2M408.2 202.0l-0.2 0.6M385.8 161.9l0.5 0.5M355.5 182.4l0.1 0.9M387.7 171.4l-0.0 0.6M464.5 139.6l0.3 0.7M360.5 182.2l-0.6 0.6M377.1 204.1l0.3 0.2M368.7 180.9l0.1 0.1M341.1 230.6l0.0 0.5M393.3 172.3l0.3 0.1M377.0 197.2l0.3 0.1M397.7 207.2l0.6 0.5M450.9 133.2l0.4 0.2M394.4 197.9l-0.5 0.5M370.5 166.0l0.1 0.1M393.3 182.4l-0.3 0.0M347.0 214.0l-0.7 0.2M393.8 193.8l0.1 0.3M355.2 208.4l0.1 0.1M355.2 200.0l-0.0 0.8M376.2 213.6l0.2 0.2M356.2 182.5l-0.4 0.6M346.0 187.0l-0.8 0.2M360.0 190.6l-0.2 0.6M412.3 186.5l-0.2 0.7M426.1 155.3l-0.6 0.6M437.1 142.2l-0.6 0.0M388.1 212.9l-0.1 0.2M418.3 190.4l0.3 0.3M351.6 212.0l-0.5 0.0M393.6 182.8l0.0 0.3M389.7 172.4l0.7 0.1M400.8 173.6l0.3 0.2M392.3 160.0l-0.3 0.1M378.6 193.0l-0.4 0.0M450.1 163.1l-0.2 0.7M357.5 218.3l0.8 0.1M385.9 183.8l0.2 0.6M374.8 221.6l-0.6 0.2M381.6 174.0l-0.3 0.4M368.1 222.2l0.2 0.5M359.0 214.9l-0.3 0.5M409.0 163.7l-0.4 0.4M387.7 216.2l-0.0 0.6M386.7 171.1l0.4 0.1M341.2 234.9l0.7 0.5M415.4 186.9l-0.1 0.4M355.9 191.5l-0.1 0.2M351.2 191.8l-0.1 0.0M452.7 160.9l0.1 0.2M357.6 178.2l0.2 0.4M436.4 187.0l-0.3 0.2M361.5 217.0l-0.3 0.5M417.9 196.6l-0.3 0.5M408.1 153.9l0.3 0.2M359.9 227.3l-0.0 0.4M344.2 195.3l0.5 0.3M388.2 162.1l-0.3 0.8M375.0 183.1l0.7 0.4M411.6 199.8l-0.2 0.7M394.3 187.9l-0.0 0.7M439.4 144.4l-0.7 0.1M435.5 153.0l0.6 0.1M373.3 182.8l0.3 0.4M383.1 212.3l-0.7 0.1M391.2 175.4l0.0 0.2M447.1 168.3l-0.5 0.5M361.8 196.8l0.5 0.5M344.7 190.5l0.3 0.3M394.1 164.5l-0.1 0.9M405.3 159.0l0.1 0.2M376.9 174.0l-0.6 0.2M461.4 160.2l-0.2 0.4M352.1 182.4l-0.1 0.1M367.1 206.5l-0.1 0.6M428.7 144.8l-0.1 0.1M387.4 198.8l-0.4 0.3M360.7 195.1l0.4 0.4M361.6 221.8l0.3 0.1M428.7 167.3l-0.3 0.5M385.7 201.6l-0.6 0.4M380.1 193.1l-0.2 0.9M423.3 169.1l0.1 0.4M347.9 234.8l-0.2 0.1M388.5 166.5l-0.1 0.4M342.6 182.8l-0.3 0.5M339.2 196.9l-0.4 0.0M379.4 203.4l-0.2 0.4M451.5 145.1l-0.5 0.6M457.9 171.8l-0.8 0.2M400.8 164.2l0.5 0.4M460.5 135.7l-0.3 0.3M355.0 191.9l0.4 0.4M403.4 209.6l-0.3 0.6M374.0 216.1l0.3 0.4M447.8 134.1l-0.3 0.5" stroke="#fff" stroke-width="1.35" stroke-linecap="round" fill="none"/>
<path d="M361.9 196.5l1.1 0.3M387.5 158.3l-0.8 1.5M375.3 215.8l-0.7 2.4M446.9 162.3l-1.2 0.2M444.4 169.6l1.4 0.6M372.5 197.2l-1.0 1.7M348.6 219.0l1.8 0.8M439.3 134.0l0.2 1.3M422.0 170.0l0.2 2.1M374.0 222.5l-1.4 1.1M409.4 196.6l0.1 2.7M353.9 175.9l0.4 1.0M343.2 232.8l1.2 2.1M337.2 211.9l1.0 0.3M419.2 200.1l0.4 1.6M411.1 187.2l0.2 2.1M368.0 175.6l-1.4 1.9M420.3 166.8l2.5 0.1M381.9 192.2l-1.1 0.9M354.2 203.7l-1.5 0.2M360.8 211.3l-0.0 1.7M402.7 181.8l-2.1 2.1M363.7 224.9l1.4 1.3M359.4 189.9l-1.2 0.5M346.6 194.7l1.0 0.9M361.9 186.5l-1.4 0.1M416.6 202.2l1.3 0.4M383.2 190.3l-2.6 1.4M435.1 189.2l-0.7 2.0M423.4 189.2l-0.6 1.6M383.2 170.0l-0.2 2.7M389.6 176.8l-1.3 0.7M338.4 187.9l-0.3 1.3M452.7 132.6l-0.1 3.0M443.9 176.3l1.2 0.2M438.4 146.1l1.8 1.1M441.6 134.1l1.4 1.2M396.5 185.7l1.6 2.4M410.1 196.9l1.0 1.6M416.1 154.4l-1.6 0.5M357.6 185.5l-1.7 1.9M355.8 174.6l-0.3 2.4M464.4 145.0l1.2 0.5M367.6 181.8l0.0 1.2M336.5 204.4l1.4 0.2M393.2 213.2l0.6 2.3M350.0 227.4l1.1 0.4M359.4 204.9l0.2 1.4M427.8 193.6l-1.1 1.6M353.8 190.8l1.1 1.1M359.7 212.2l2.6 0.3M384.7 166.4l-2.5 0.7M378.7 212.2l-1.7 2.3M437.2 177.5l2.1 0.9M421.5 192.3l0.4 1.8M414.8 156.5l1.2 0.4M340.7 200.3l-1.8 0.5M435.8 158.4l0.3 1.0M377.8 185.6l-1.0 2.5M367.4 185.0l-0.6 0.8M446.1 189.8l-2.3 0.5M444.6 191.0l0.3 1.7M385.4 195.7l2.1 0.7M426.6 157.7l-0.9 0.8M359.3 202.7l-1.2 1.5M399.3 199.5l-0.6 2.8M407.0 195.7l1.5 0.1M339.3 183.4l0.5 1.4M422.5 156.0l2.3 1.3M349.3 187.7l-0.5 1.0M433.5 150.0l2.6 0.9M346.9 192.9l-2.9 0.2M463.2 152.9l-2.4 0.7M357.0 227.1l0.3 1.8M456.6 135.8l-1.6 1.4M431.6 162.0l2.3 0.2M376.1 212.2l-2.2 1.0M339.8 227.8l-1.9 1.6M381.3 172.0l2.6 0.3M403.9 194.6l2.1 1.2M350.6 231.6l0.1 1.1M445.6 139.8l-2.1 0.6M445.9 144.8l-1.2 0.5M447.0 171.0l-1.3 1.0M354.4 211.8l1.5 0.4M364.4 174.0l2.4 1.1M339.3 230.7l-1.2 0.9M442.5 164.4l-1.4 2.1M371.7 166.2l2.6 0.6M375.5 214.0l1.1 1.1M375.8 173.0l2.3 0.8M348.4 195.3l-1.2 1.1M356.8 204.2l2.3 0.5M355.6 196.5l0.8 1.8M422.0 168.4l-2.6 1.2M376.1 220.5l0.7 2.1M428.4 195.0l-1.5 1.0M347.9 207.0l-1.3 1.7M429.3 141.0l1.2 0.2M366.6 202.8l0.5 1.3M412.0 174.0l-0.7 2.8M351.4 182.3l-2.0 2.1M422.4 149.5l1.3 0.1M355.6 187.2l-1.0 0.8M367.0 220.7l0.0 1.2M441.9 153.8l-2.4 1.7M343.1 199.4l1.9 2.1M368.4 185.1l-0.6 1.2M433.2 137.3l0.3 1.0M343.9 201.8l1.6 0.2M420.8 154.5l-1.4 0.2M375.6 221.6l0.3 2.4M364.8 178.0l-2.8 1.0M418.2 158.7l1.9 0.4M415.7 168.9l1.2 1.0M435.5 157.7l-1.3 1.9M376.7 176.7l0.7 1.3M386.3 181.8l2.1 1.7M455.5 143.7l-2.4 1.6M434.2 159.6l2.6 0.5M352.8 200.0l0.6 1.4M357.7 192.2l-1.1 1.7M380.6 215.2l-0.5 1.0M390.6 165.7l0.5 1.9M411.2 182.2l2.1 0.9M366.9 211.8l1.6 1.0M355.8 218.8l-1.6 0.1M349.7 211.3l0.2 1.2M422.2 142.0l-1.4 1.4M393.5 207.6l0.4 2.7M371.0 217.5l-0.1 2.6M380.5 219.4l-1.3 0.6M388.1 160.5l-1.5 1.0M416.1 160.5l-1.0 1.4M347.6 232.0l-0.4 2.6M448.7 170.1l2.0 0.4M407.7 151.1l1.8 1.0M406.3 174.1l-1.6 0.9M355.4 197.0l-2.1 0.8M384.7 208.7l-2.0 1.4M399.6 196.8l0.5 2.2M344.1 204.5l1.0 1.7M444.7 149.7l1.4 0.5M347.5 193.0l-0.8 0.9M410.1 195.5l1.2 0.4M389.6 172.7l-1.6 1.0M380.0 196.5l1.0 0.5M369.4 168.8l-2.6 1.2M352.0 183.5l-2.2 1.4M405.0 189.0l1.1 2.5M382.6 175.4l0.5 1.8M422.6 187.1l-0.3 1.0M462.4 170.3l-1.2 1.0M439.0 176.5l-1.6 2.5M382.7 166.9l2.2 0.0M359.8 196.0l-2.9 0.5M369.4 196.7l2.3 0.0M431.2 191.3l-2.0 0.4M350.8 199.5l0.3 1.8M433.6 137.1l-0.1 1.4M345.9 230.9l2.7 0.7M418.5 199.8l-2.2 1.2M397.0 164.1l2.5 0.1M437.9 154.1l-1.2 2.4M379.3 175.7l-1.9 1.1M441.5 168.2l-2.2 0.4M366.7 198.2l1.5 1.4M420.5 191.5l0.9 1.6M438.7 146.0l-2.0 0.2M373.8 165.3l1.8 1.7M433.7 157.5l0.8 1.8M342.5 212.8l-1.9 1.4M348.7 210.4l-2.8 0.8M377.1 182.9l-2.2 1.6M356.1 226.0l1.6 1.0M364.9 187.2l0.8 0.8M411.4 168.2l-1.2 2.1M341.5 185.8l1.7 2.4M374.6 212.0l1.5 1.9M424.9 185.5l1.7 1.2M373.9 188.4l1.0 0.8M432.2 196.2l-0.9 2.0M378.6 196.3l0.2 2.1M391.3 174.6l-1.6 0.4M354.4 227.3l1.5 2.3M385.3 167.4l1.2 0.3M377.6 191.9l0.3 2.4M417.6 185.1l-2.4 0.7M446.0 151.6l0.1 2.8M396.5 201.0l-2.1 1.5M358.9 194.7l1.1 0.2M405.5 160.1l-0.2 1.6M394.8 213.5l-0.2 1.6M372.7 219.8l-0.9 0.6M394.3 170.0l-0.5 2.2M381.7 217.0l1.2 2.1M389.6 201.8l-2.2 0.5M387.3 203.9l0.1 2.6M408.7 152.5l-0.3 1.8M337.8 221.2l-0.4 1.6M364.4 175.2l2.1 1.3M400.2 212.1l-2.1 0.8M436.2 146.1l-1.6 1.1M425.8 185.6l-1.6 1.0M382.7 205.2l0.9 2.1M361.2 200.3l-1.2 0.0M336.4 204.3l1.9 0.1M373.1 210.1l-2.0 0.7M401.8 187.8l0.2 1.4M419.5 194.3l2.3 0.1M432.6 154.5l1.9 1.0M362.1 201.8l-0.4 1.7M424.4 149.2l-1.8 1.3M358.7 199.4l2.3 1.6M376.9 165.9l-1.6 2.2M421.1 152.9l-2.1 1.5M344.6 211.1l-2.4 0.4M343.7 200.8l1.1 0.2M344.3 204.7l0.5 0.9M341.8 195.8l1.8 0.4M412.9 148.1l-1.0 1.3M343.0 188.3l0.5 1.1M358.8 189.8l0.0 2.7M394.4 176.6l1.3 1.0M347.8 217.7l-0.1 1.3M341.3 202.4l-0.6 1.8M402.5 157.7l1.7 0.3M384.5 215.9l-2.6 0.2M348.6 221.5l0.8 0.7M380.9 206.7l1.5 0.4M361.1 201.2l-2.7 0.3M355.5 200.9l0.2 2.2M461.7 142.2l1.0 2.0M357.1 216.6l-1.3 2.3M339.4 193.1l-2.9 0.2M360.9 192.3l0.1 1.5M380.5 175.1l1.1 2.2M338.9 228.3l-1.8 2.0M339.0 187.3l-1.1 1.1M364.0 204.6l-0.4 1.1M344.4 211.2l-2.3 1.0M373.4 223.7l-0.3 1.2M433.7 173.7l-1.0 0.3M435.6 139.2l-1.0 1.0M382.2 174.7l-0.7 0.9M376.2 175.9l1.8 1.0M446.8 142.5l0.7 1.0M459.9 152.8l0.4 0.9M374.1 211.5l0.9 1.1M437.7 140.0l2.0 0.3M450.1 147.7l0.3 1.2M436.5 150.7l-1.1 1.5M344.4 189.5l-1.7 1.3M366.5 185.2l-0.1 2.2M344.5 226.3l1.3 1.9M386.6 190.1l-1.6 2.2M432.4 175.3l-1.2 1.2M464.3 144.3l0.4 2.7" stroke="#fff" stroke-width="1.05" stroke-linecap="round" fill="none"/>
<path d="M354.2 229.6l3.4 -0.3M345.1 231.0l1.6 -0.1M393.6 203.1l1.3 -0.9M397.2 195.7l1.8 -0.4M377.7 202.1l3.4 0.4M411.2 159.7l2.6 -2.1M381.8 206.8l2.2 0.1M397.8 213.8l0.8 -0.9M438.5 168.8l0.9 -1.0M455.9 150.5l2.0 -1.6M361.5 186.4l2.5 -0.3M382.6 172.8l2.9 0.3M338.3 184.4l1.9 -2.4M353.4 215.5l2.0 -1.3M462.2 151.7l2.7 -1.2M352.3 217.2l2.7 -0.6M436.9 161.0l1.5 -1.3M442.9 139.3l2.4 -1.9M383.3 177.8l2.1 -1.3M350.4 194.3l1.9 -1.3M380.2 197.2l1.0 -1.3M421.9 177.7l2.2 -0.7M392.1 182.3l1.9 -0.9M418.9 190.6l1.4 -0.3M459.1 152.0l2.6 -1.5M360.0 193.6l2.1 -1.7M341.1 203.9l2.6 -0.9M458.3 174.6l1.9 -1.7M358.3 205.0l0.9 -1.0M343.2 182.8l1.2 -0.5M400.2 159.4l3.0 -1.2M375.9 197.2l3.5 0.1M344.7 234.5l1.9 -0.2M441.1 139.4l1.5 -1.4M356.9 209.4l1.4 0.3M367.0 198.3l1.3 -1.5M435.4 180.0l2.6 -1.6M338.6 184.3l0.9 -0.9M445.2 154.6l2.8 0.5M376.4 213.3l3.1 -0.3M369.9 171.7l2.7 -1.7M362.3 203.1l1.5 -0.6M385.5 162.9l1.9 -1.4M379.8 176.6l2.8 -0.4M424.9 182.3l1.6 -1.7M348.1 229.7l1.6 0.2M375.8 170.7l1.6 0.2M370.5 190.0l2.3 -2.5M387.6 190.3l1.3 0.2M361.7 179.6l1.7 0.3M378.0 181.8l2.7 -1.0M365.1 173.0l2.7 -1.2M424.3 162.7l1.6 -0.6M389.2 192.5l1.6 -2.0M433.1 179.9l2.6 -2.2M348.1 191.0l2.9 -0.0M362.1 186.1l2.0 -2.5M387.6 194.4l3.5 -0.4M385.1 179.2l1.2 -0.5M380.0 204.4l1.2 -0.9M375.3 168.3l1.9 0.1M394.4 175.2l1.2 -1.4" stroke="#fff" stroke-width="1.7" stroke-linecap="round" fill="none"/>
<clipPath id="lbc"><path d="M302.8 198.2 L317.6 192.5 L315.8 251.5 L294.6 231.5Z"/></clipPath><g clip-path="url(#lbc)">
<path d="M295.0 204.0 L300.0 201.5 L306.0 199.0 L312.0 196.5 L319.0 195.0 L320.0 210.0 L320.0 225.0 L320.0 240.0 L319.0 251.0 L312.0 246.0 L305.0 239.5 L295.0 230.5 L294.0 218.0Z" fill="#151212" stroke="#111" stroke-width="0.6" stroke-linejoin="round"/>
<path d="M295.6 205.5a0.9 0.9 0 1 0 1.9 0a0.9 0.9 0 1 0 -1.9 0M293.8 204.3a1.5 1.5 0 1 0 3.0 0a1.5 1.5 0 1 0 -3.0 0M297.5 201.7a1.4 1.4 0 1 0 2.8 0a1.4 1.4 0 1 0 -2.8 0M299.3 201.8a1.0 1.0 0 1 0 2.1 0a1.0 1.0 0 1 0 -2.1 0M299.8 200.5a1.5 1.5 0 1 0 3.0 0a1.5 1.5 0 1 0 -3.0 0M303.3 201.8a1.3 1.3 0 1 0 2.7 0a1.3 1.3 0 1 0 -2.7 0M303.4 198.8a0.9 0.9 0 1 0 1.9 0a0.9 0.9 0 1 0 -1.9 0M303.2 198.9a1.2 1.2 0 1 0 2.3 0a1.2 1.2 0 1 0 -2.3 0M305.8 199.7a1.3 1.3 0 1 0 2.6 0a1.3 1.3 0 1 0 -2.6 0M308.3 196.9a0.9 0.9 0 1 0 1.8 0a0.9 0.9 0 1 0 -1.8 0M308.6 195.9a1.3 1.3 0 1 0 2.6 0a1.3 1.3 0 1 0 -2.6 0M312.7 197.1a1.0 1.0 0 1 0 2.1 0a1.0 1.0 0 1 0 -2.1 0M313.6 197.1a1.5 1.5 0 1 0 3.0 0a1.5 1.5 0 1 0 -3.0 0M315.4 196.6a1.5 1.5 0 1 0 3.1 0a1.5 1.5 0 1 0 -3.1 0M315.1 197.0a1.7 1.7 0 1 0 3.3 0a1.7 1.7 0 1 0 -3.3 0M316.4 195.9a1.5 1.5 0 1 0 2.9 0a1.5 1.5 0 1 0 -2.9 0M317.7 196.8a1.3 1.3 0 1 0 2.6 0a1.3 1.3 0 1 0 -2.6 0M319.1 198.3a1.6 1.6 0 1 0 3.1 0a1.6 1.6 0 1 0 -3.1 0M317.2 201.3a1.6 1.6 0 1 0 3.2 0a1.6 1.6 0 1 0 -3.2 0M317.7 201.9a1.6 1.6 0 1 0 3.3 0a1.6 1.6 0 1 0 -3.3 0M319.2 203.3a1.1 1.1 0 1 0 2.2 0a1.1 1.1 0 1 0 -2.2 0M318.0 205.7a1.0 1.0 0 1 0 2.1 0a1.0 1.0 0 1 0 -2.1 0M319.5 205.9a1.6 1.6 0 1 0 3.3 0a1.6 1.6 0 1 0 -3.3 0M317.8 209.9a1.5 1.5 0 1 0 2.9 0a1.5 1.5 0 1 0 -2.9 0M318.6 210.1a1.4 1.4 0 1 0 2.8 0a1.4 1.4 0 1 0 -2.8 0M319.2 211.0a1.1 1.1 0 1 0 2.1 0a1.1 1.1 0 1 0 -2.1 0M318.6 214.8a1.4 1.4 0 1 0 2.8 0a1.4 1.4 0 1 0 -2.8 0M317.1 216.1a1.5 1.5 0 1 0 3.0 0a1.5 1.5 0 1 0 -3.0 0M319.9 215.6a1.5 1.5 0 1 0 3.0 0a1.5 1.5 0 1 0 -3.0 0M317.4 218.9a1.1 1.1 0 1 0 2.2 0a1.1 1.1 0 1 0 -2.2 0M318.1 221.3a1.0 1.0 0 1 0 2.0 0a1.0 1.0 0 1 0 -2.0 0M319.0 222.9a1.1 1.1 0 1 0 2.2 0a1.1 1.1 0 1 0 -2.2 0M317.8 224.6a1.2 1.2 0 1 0 2.5 0a1.2 1.2 0 1 0 -2.5 0M319.5 223.4a1.2 1.2 0 1 0 2.4 0a1.2 1.2 0 1 0 -2.4 0M317.9 227.3a1.0 1.0 0 1 0 1.9 0a1.0 1.0 0 1 0 -1.9 0M320.1 226.7a1.5 1.5 0 1 0 3.0 0a1.5 1.5 0 1 0 -3.0 0M316.8 229.2a1.6 1.6 0 1 0 3.1 0a1.6 1.6 0 1 0 -3.1 0M317.4 230.6a1.5 1.5 0 1 0 2.9 0a1.5 1.5 0 1 0 -2.9 0M317.9 231.8a1.7 1.7 0 1 0 3.4 0a1.7 1.7 0 1 0 -3.4 0M317.6 233.4a1.2 1.2 0 1 0 2.4 0a1.2 1.2 0 1 0 -2.4 0M319.4 237.5a1.0 1.0 0 1 0 2.0 0a1.0 1.0 0 1 0 -2.0 0M318.2 236.7a1.3 1.3 0 1 0 2.5 0a1.3 1.3 0 1 0 -2.5 0M319.3 240.8a1.6 1.6 0 1 0 3.2 0a1.6 1.6 0 1 0 -3.2 0M319.2 243.1a1.5 1.5 0 1 0 2.9 0a1.5 1.5 0 1 0 -2.9 0M318.1 242.7a1.4 1.4 0 1 0 2.9 0a1.4 1.4 0 1 0 -2.9 0M317.6 244.1a1.3 1.3 0 1 0 2.5 0a1.3 1.3 0 1 0 -2.5 0M319.2 246.1a1.4 1.4 0 1 0 2.7 0a1.4 1.4 0 1 0 -2.7 0M317.8 249.2a1.0 1.0 0 1 0 2.0 0a1.0 1.0 0 1 0 -2.0 0M319.2 250.2a1.4 1.4 0 1 0 2.8 0a1.4 1.4 0 1 0 -2.8 0M316.0 248.4a1.3 1.3 0 1 0 2.7 0a1.3 1.3 0 1 0 -2.7 0M314.1 247.5a0.9 0.9 0 1 0 1.9 0a0.9 0.9 0 1 0 -1.9 0M312.2 246.6a1.4 1.4 0 1 0 2.8 0a1.4 1.4 0 1 0 -2.8 0M311.8 248.6a1.6 1.6 0 1 0 3.3 0a1.6 1.6 0 1 0 -3.3 0M312.4 245.1a1.3 1.3 0 1 0 2.5 0a1.3 1.3 0 1 0 -2.5 0M308.4 245.0a1.4 1.4 0 1 0 2.8 0a1.4 1.4 0 1 0 -2.8 0M309.1 244.1a1.1 1.1 0 1 0 2.2 0a1.1 1.1 0 1 0 -2.2 0M306.6 242.2a0.9 0.9 0 1 0 1.8 0a0.9 0.9 0 1 0 -1.8 0M303.8 240.5a1.0 1.0 0 1 0 2.0 0a1.0 1.0 0 1 0 -2.0 0M304.8 238.6a1.0 1.0 0 1 0 2.0 0a1.0 1.0 0 1 0 -2.0 0M301.6 237.5a1.1 1.1 0 1 0 2.1 0a1.1 1.1 0 1 0 -2.1 0M301.4 237.1a1.1 1.1 0 1 0 2.3 0a1.1 1.1 0 1 0 -2.3 0M300.1 235.1a1.6 1.6 0 1 0 3.3 0a1.6 1.6 0 1 0 -3.3 0M300.3 235.8a1.2 1.2 0 1 0 2.5 0a1.2 1.2 0 1 0 -2.5 0M297.8 234.2a0.9 0.9 0 1 0 1.9 0a0.9 0.9 0 1 0 -1.9 0M296.2 232.8a1.0 1.0 0 1 0 2.1 0a1.0 1.0 0 1 0 -2.1 0M293.7 232.7a1.2 1.2 0 1 0 2.4 0a1.2 1.2 0 1 0 -2.4 0M293.7 231.9a1.4 1.4 0 1 0 2.8 0a1.4 1.4 0 1 0 -2.8 0M292.9 230.4a1.2 1.2 0 1 0 2.4 0a1.2 1.2 0 1 0 -2.4 0M292.1 227.6a1.0 1.0 0 1 0 2.0 0a1.0 1.0 0 1 0 -2.0 0M292.5 226.3a1.4 1.4 0 1 0 2.9 0a1.4 1.4 0 1 0 -2.9 0M291.6 223.2a1.2 1.2 0 1 0 2.5 0a1.2 1.2 0 1 0 -2.5 0M292.9 220.6a1.4 1.4 0 1 0 2.7 0a1.4 1.4 0 1 0 -2.7 0M291.5 219.1a1.2 1.2 0 1 0 2.4 0a1.2 1.2 0 1 0 -2.4 0M294.0 216.6a1.5 1.5 0 1 0 3.0 0a1.5 1.5 0 1 0 -3.0 0M291.9 216.5a1.2 1.2 0 1 0 2.4 0a1.2 1.2 0 1 0 -2.4 0M292.9 215.4a1.2 1.2 0 1 0 2.4 0a1.2 1.2 0 1 0 -2.4 0M292.1 211.5a1.0 1.0 0 1 0 1.9 0a1.0 1.0 0 1 0 -1.9 0M294.0 211.5a1.7 1.7 0 1 0 3.3 0a1.7 1.7 0 1 0 -3.3 0M293.9 207.6a1.4 1.4 0 1 0 2.9 0a1.4 1.4 0 1 0 -2.9 0M294.4 208.3a1.3 1.3 0 1 0 2.6 0a1.3 1.3 0 1 0 -2.6 0M292.9 205.6a1.5 1.5 0 1 0 3.1 0a1.5 1.5 0 1 0 -3.1 0" fill="#151212"/>
<path d="M296.8 203.5l-2.3 0.3M299.7 200.7l1.3 1.2M301.6 201.2l-1.9 0.5M305.4 199.0l-1.2 0.0M307.8 197.4l-2.4 0.8M309.6 195.9l1.5 1.4M313.4 195.7l1.8 0.6M319.3 193.3l-0.1 2.1M320.2 195.0l-1.0 1.3M319.1 200.7l1.5 0.7M318.8 201.2l1.5 1.0M320.6 205.6l-2.1 0.4M321.3 207.4l-1.4 1.5M320.9 211.1l-0.6 1.5M319.9 215.2l1.7 0.1M321.0 218.1l-0.9 0.6M321.5 221.6l-2.3 0.7M319.6 222.1l1.8 1.3M318.6 226.8l1.8 0.8M319.5 228.7l0.1 1.3M319.3 231.9l0.1 2.3M320.8 235.3l-0.8 1.3M318.9 236.8l2.1 0.5M320.0 239.9l0.6 2.0M319.4 243.9l1.4 0.8M319.3 244.7l-0.5 2.5M319.0 247.9l0.4 2.4M318.7 249.2l-0.3 2.4M317.5 247.9l-1.0 2.0M311.7 246.8l1.9 0.6M311.9 245.1l-1.6 1.2M308.0 242.6l1.1 1.0M304.2 239.4l0.6 1.5M302.9 238.4l1.5 0.9M302.9 236.9l0.4 2.0M298.4 233.1l1.0 0.9M298.0 232.2l-1.1 0.8M296.3 230.3l-1.3 0.8M296.2 226.7l-1.4 2.1M296.0 225.4l-2.2 0.4M294.3 220.7l-0.8 1.4M293.2 219.8l0.8 1.6M293.2 216.0l1.0 0.4M295.1 214.5l-2.1 0.8M295.3 210.4l-1.4 0.8M294.2 207.2l1.4 2.1M293.7 205.5l1.2 1.2" stroke="#fff" stroke-width="0.9" stroke-linecap="round" fill="none"/>
<path d="M300.3 214.0l0.4 0.4M302.8 215.8l-0.2 0.1M316.3 218.9l-0.4 0.3M315.9 228.0l-0.2 0.9M319.7 241.8l0.1 0.5M318.5 233.0l-0.3 0.1M296.5 214.5l0.5 0.3M311.1 197.7l-0.5 0.2M308.5 202.6l-0.0 0.3M297.6 222.5l0.2 0.1M312.7 223.4l-0.2 0.0M315.1 230.0l0.3 0.2M310.3 236.5l-0.1 0.1M317.2 220.7l0.5 0.6M312.4 210.2l-0.4 0.1M314.3 233.7l-0.4 0.3M302.8 221.3l0.3 0.3M299.0 221.2l-0.1 0.2M316.8 232.9l0.4 0.6M316.5 206.0l0.2 0.3M312.8 213.8l0.1 0.8M297.5 203.4l-0.1 0.1M312.2 224.3l0.1 0.1M311.4 202.5l-0.2 0.4M319.2 216.8l0.0 0.3M300.2 224.6l-0.7 0.5M311.7 197.8l-0.3 0.4M312.1 236.0l0.4 0.3M297.2 202.7l0.3 0.5M297.9 212.0l-0.4 0.7M317.5 223.5l-0.4 0.0M312.3 243.2l0.6 0.1M305.4 218.4l-0.1 0.1M317.5 217.5l-0.6 0.2M295.6 207.9l0.4 0.2M307.1 210.5l-0.2 0.5M307.9 217.5l-0.4 0.1M298.2 228.3l0.1 0.0M310.4 226.7l0.3 0.3M315.0 229.8l0.8 0.1M312.8 215.3l-0.6 0.3M312.2 215.2l-0.2 0.1M311.2 230.9l0.3 0.9M306.1 201.3l-0.6 0.1M313.1 205.0l-0.1 0.1M309.7 217.5l-0.2 0.0M306.6 235.0l0.5 0.1M299.5 229.1l0.7 0.4M308.7 235.4l0.1 0.5M312.9 207.2l-0.2 0.8M309.1 223.5l0.4 0.2M316.0 229.4l-0.2 0.2M316.8 212.0l-0.0 0.2M318.9 198.5l0.1 0.1M315.1 224.5l-0.1 0.1M317.1 206.4l0.1 0.6M305.7 206.0l0.7 0.1M313.0 243.0l-0.5 0.5M319.5 232.8l0.0 0.2M317.5 214.6l-0.3 0.2M299.8 213.7l0.4 0.1M305.1 231.6l-0.7 0.4M303.9 218.5l-0.2 0.2M308.0 212.3l-0.0 0.5M304.4 200.8l0.3 0.3M298.3 203.4l0.4 0.1" stroke="#fff" stroke-width="1.35" stroke-linecap="round" fill="none"/>
<path d="M316.6 213.3l-1.3 1.2M319.9 216.2l0.1 1.6M318.0 239.7l-0.2 2.7M300.1 214.9l-1.1 2.6M304.8 217.7l0.8 2.5M307.7 220.3l1.9 2.3M300.3 233.9l-0.6 0.9M307.4 205.7l1.9 1.3M314.5 240.8l-0.9 0.5M309.3 224.7l2.5 1.6M313.1 210.3l-1.7 0.6M304.7 234.7l0.2 1.2M308.0 216.3l-0.1 1.4M308.8 242.4l1.8 1.5M311.3 222.4l-1.1 0.8M318.7 205.5l-1.3 1.8M296.7 222.5l-0.1 2.2M295.8 226.0l1.8 0.5M303.8 213.9l-1.2 0.3M315.7 215.1l-2.6 0.4M315.2 232.3l0.6 0.9M307.0 215.8l-2.0 0.2M306.6 219.3l-2.3 0.4M303.9 209.2l2.2 1.8M319.5 224.9l-0.3 1.5M308.3 223.7l0.3 2.5M306.0 222.9l-2.2 0.7M319.2 200.7l-0.6 1.8M318.6 248.0l0.9 2.4M315.9 217.5l-1.7 0.5M311.9 238.5l-2.2 0.7M318.3 248.9l-2.0 0.8M309.5 208.2l-1.2 0.6M302.2 204.2l2.3 1.7M299.0 204.9l0.3 1.0M319.7 204.3l-1.6 1.1M298.5 206.6l-0.9 2.4M310.3 242.3l0.9 0.5M315.6 222.9l-2.8 0.7M310.7 214.6l-1.4 0.2M309.2 199.7l-2.5 0.6M310.0 213.7l1.9 1.3M313.3 203.9l-1.2 2.1M308.1 236.2l1.2 1.2M301.2 202.7l-2.6 0.3M294.6 218.1l-0.8 1.1" stroke="#fff" stroke-width="1.05" stroke-linecap="round" fill="none"/>
<path d="M303.2 213.2l1.4 -1.2M299.9 210.1l2.0 -1.5M314.1 212.8l2.1 -1.0M315.1 237.8l1.6 0.3M313.8 211.8l2.4 -0.6M308.5 213.5l0.8 -0.9M317.5 244.9l1.3 -0.5M314.5 223.6l2.5 -1.0M296.6 207.2l3.0 -0.0M317.9 219.0l3.3 0.6M313.8 203.4l2.8 -1.0M311.0 207.3l1.3 -0.0" stroke="#fff" stroke-width="1.7" stroke-linecap="round" fill="none"/>
</g>
<g mask="url(#wmm)"><g filter="url(#b1)" opacity="0.68"><use href="#wm" fill="#6a6a6a" transform="translate(-4 3)"/></g></g>
<use href="#wm" fill="#fff" opacity="0.2" filter="url(#b0)"/>
<path d="M95.2 291.8 L60.6 268.7 L270.6 170.0 L303.7 194.2 L95.2 291.8" fill="none" stroke="#4a4a4a" stroke-width="0.7" />
<path d="M60.6 268.7 L60.6 270.9 L95.2 294.0 L303.9 196.6 L303.7 194.2" fill="none" stroke="#4a4a4a" stroke-width="0.8" />
<path d="M95.2 291.8 L95.2 294.0" fill="none" stroke="#4a4a4a" stroke-width="0.7" />
<path d="M235.3 186.6 L267.3 210.5" fill="none" stroke="#4a4a4a" stroke-width="0.7" />
<path d="M88.0 256.4 L116.3 275.5 L150.5 260.0 L118.8 242.0" fill="none" stroke="#4a4a4a" stroke-width="0.7" />
<path d="M89.5 256.6 L116.5 274.3 L148.5 259.8" fill="none" stroke="#4a4a4a" stroke-width="0.7" />
<path d="M115.5 262.0 L109.3 257.0 L124.5 250.5 L130.0 255.5" fill="none" stroke="#777" stroke-width="2.0" stroke-linecap="butt" stroke-linejoin="round"/>
<path d="M115.5 262.0 L109.3 257.0 L124.5 250.5 L130.0 255.5" fill="none" stroke="#eee" stroke-width="1.0" stroke-linecap="butt" stroke-linejoin="round"/>
<path d="M68.6 276.0 L62.7 341.0" fill="none" stroke="#4a4a4a" stroke-width="0.7" />
<path d="M103.3 293.8 L95.1 373.1" fill="none" stroke="#4a4a4a" stroke-width="0.7" />
<path d="M105.5 292.8 L98.0 369.0" fill="none" stroke="#4a4a4a" stroke-width="0.7" />
<path d="M102.0 310.0 L141.9 292.5" fill="none" stroke="#4a4a4a" stroke-width="0.7" />
<path d="M98.8 345.7 L140.0 326.5" fill="none" stroke="#4a4a4a" stroke-width="0.7" />
<path d="M148.9 281 C142 291 131 298 128.5 306 C126 313 127.5 319 133 322.8 L141 326.2" fill="none" stroke="#4a4a4a" stroke-width="0.7" />
<path d="M159.9 296.2 C153 300 147 306 144.3 310.8" fill="none" stroke="#4a4a4a" stroke-width="0.7" />
<path d="M148.9 281 L149.8 270 Q150.3 267.2 153.5 268.6 L161.5 272.8 Q165.4 275 165.3 280 L163 333 L160.8 348.3" fill="none" stroke="#4a4a4a" stroke-width="0.7" />
<path d="M160.2 287.6 L158.6 327" fill="none" stroke="#4a4a4a" stroke-width="0.7" />
<path d="M149.8 277.7 L153.1 275.9 L163.0 284.6 L159.9 288.2 L149.6 280.6" fill="none" stroke="#4a4a4a" stroke-width="0.7" />
<circle cx="148.3" cy="319.1" r="9.2" fill="#fff" stroke="#4a4a4a" stroke-width="0.7"/>
<circle cx="148.3" cy="319.1" r="7.2" fill="#fff" stroke="#4a4a4a" stroke-width="1.0"/>
<path d="M150.5 314.2 L171.5 326.0 L175.0 334.5 L153.0 323.6Z" fill="#fff" stroke="#4a4a4a" stroke-width="0.7" />
<path d="M152.0 316.5 L172.0 328.0" fill="none" stroke="#888" stroke-width="0.5" />
<path d="M152.5 318.5 L172.5 330.0" fill="none" stroke="#888" stroke-width="0.5" />
<path d="M153.0 320.5 L173.0 332.0" fill="none" stroke="#888" stroke-width="0.5" />
<circle cx="173.2" cy="330.2" r="4.6" fill="#fff" stroke="#4a4a4a" stroke-width="0.7"/>
<path d="M152.5 314.8 A4.6 4.6 0 0 0 151.5 323.5" fill="none" stroke="#4a4a4a" stroke-width="0.7" />
<path d="M144.6 327.4 L144.6 348.3 L155.0 351.5 L160.6 348.5 L161.0 336.6" fill="none" stroke="#4a4a4a" stroke-width="0.7" />
<path d="M155.0 351.5 L155.2 331.5" fill="none" stroke="#4a4a4a" stroke-width="0.7" />
<path d="M166.0 279.0 L225.0 233.2" fill="none" stroke="#4a4a4a" stroke-width="0.7" />
<path d="M167.0 307.5 L225.0 233.2" fill="none" stroke="#4a4a4a" stroke-width="0.7" />
<path d="M167.0 307.5 L218.5 304.0" fill="none" stroke="#4a4a4a" stroke-width="0.7" />
<path d="M168.0 318.0 L219.0 306.5" fill="none" stroke="#4a4a4a" stroke-width="0.7" />
<path d="M225.0 233.2 L220.0 305.0" fill="none" stroke="#4a4a4a" stroke-width="0.7" />
<path d="M227.5 232.3 L222.5 322.0" fill="none" stroke="#4a4a4a" stroke-width="0.7" />
<path d="M265.0 213.5 L260.0 286.5" fill="none" stroke="#4a4a4a" stroke-width="0.7" />
<path d="M268.0 212.2 L263.0 288.0" fill="none" stroke="#4a4a4a" stroke-width="1.0" />
<path d="M292.6 202.0 L286.3 267.5" fill="none" stroke="#4a4a4a" stroke-width="0.7" />
<path d="M294.5 201.3 L290.0 271.3" fill="none" stroke="#4a4a4a" stroke-width="0.7" />
<path d="M161.0 336.6 L222.5 306.5 L260.0 286.5" fill="none" stroke="#4a4a4a" stroke-width="1.0" />
<path d="M263.0 284.0 L286.3 267.5" fill="none" stroke="#4a4a4a" stroke-width="0.7" />
<path d="M263.0 288.0 L290.0 271.3" fill="none" stroke="#4a4a4a" stroke-width="0.7" />
<path d="M95.1 373.1 L160.0 340.5" fill="none" stroke="#4a4a4a" stroke-width="0.7" />
<path d="M97.0 369.4 L157.0 339.5" fill="none" stroke="#4a4a4a" stroke-width="0.7" />
<path d="M78.6 382.3 L239.0 303.5" fill="none" stroke="#4a4a4a" stroke-width="0.7" />
<path d="M85.0 386.9 L150.0 355.5" fill="none" stroke="#4a4a4a" stroke-width="0.7" />
<path d="M86.9 392.4 L239.0 312.5 L239.0 298.3" fill="none" stroke="#4a4a4a" stroke-width="0.7" />
<path d="M239.0 298.3 L254.6 312.5 L254.6 318.0 L241.9 306.0" fill="none" stroke="#4a4a4a" stroke-width="0.7" />
<path d="M241.9 296.9 L256.0 309.7 L254.6 312.5" fill="none" stroke="#4a4a4a" stroke-width="0.7" />
<path d="M37.7 341.9 L86.9 392.4 L83.2 405.2 L34.0 353.5Z" fill="#fff" stroke="#4a4a4a" stroke-width="0.7" />
<path d="M39.3 342.3 L88.0 391.5" fill="none" stroke="#4a4a4a" stroke-width="0.7" />
<path d="M35.0 352.0 L83.8 403.2" fill="none" stroke="#4a4a4a" stroke-width="0.7" />
<path d="M47.4 347.4 L60.3 341.0 L92.4 374.0" fill="none" stroke="#4a4a4a" stroke-width="0.7" />
<path d="M64.0 340.0 L94.2 369.4" fill="none" stroke="#4a4a4a" stroke-width="0.7" />
<path d="M47.4 347.4 L75.9 378.6 L90.6 373.1" fill="none" stroke="#4a4a4a" stroke-width="0.7" />
<path d="M49.3 351.0 L62.1 346.5" fill="none" stroke="#4a4a4a" stroke-width="0.7" />
<path d="M62.1 352.9 L83.2 374.0" fill="none" stroke="#4a4a4a" stroke-width="0.7" />
<path d="M63.5 355.5 L81.0 375.5" fill="none" stroke="#4a4a4a" stroke-width="0.7" />
<path d="M62.1 346.5 L62.1 352.9" fill="none" stroke="#4a4a4a" stroke-width="0.7" />
<path d="M292.0 160.0 L541.3 41.3 L576.0 66.7" fill="none" stroke="#4a4a4a" stroke-width="0.7" />
<path d="M292.0 160.0 L327.5 182.5" fill="none" stroke="#4a4a4a" stroke-width="0.7" />
<path d="M292.0 160.0 L292.3 162.8 L327.5 185.3 L327.5 182.5" fill="none" stroke="#4a4a4a" stroke-width="0.7" />
<path d="M327.5 182.5 L347.5 172.5" fill="none" stroke="#4a4a4a" stroke-width="0.7" />
<path d="M327.5 185.3 L348.0 175.0" fill="none" stroke="#4a4a4a" stroke-width="0.7" />
<path d="M327 143.5 Q346 150 347.8 173" fill="none" stroke="#4a4a4a" stroke-width="0.7" />
<path d="M433.8 93.5 Q455 99 456.3 120.5" fill="none" stroke="#4a4a4a" stroke-width="0.7" />
<path d="M456.3 120.5 L489.3 106.7 L576.0 66.7" fill="none" stroke="#4a4a4a" stroke-width="0.7" />
<path d="M456.5 123.0 L489.3 109.5 L576.3 69.5 L576.0 66.7" fill="none" stroke="#4a4a4a" stroke-width="0.7" />
<path d="M296.0 165.5 L294.4 183.5" fill="none" stroke="#4a4a4a" stroke-width="0.7" />
<path d="M319.3 181.5 L316.5 256.0" fill="none" stroke="#4a4a4a" stroke-width="0.7" />
<path d="M321.6 184.5 L319.6 254.5" fill="none" stroke="#888" stroke-width="0.5" />
<path d="M317.0 255.8 L483.0 173.5 L577.3 128.0" fill="none" stroke="#4a4a4a" stroke-width="0.9" />
<path d="M294.8 231.5 L316.5 255.8" fill="none" stroke="#4a4a4a" stroke-width="0.7" />
<path d="M319.0 258.3 L483.0 176.2" fill="none" stroke="#4a4a4a" stroke-width="0.7" />
<path d="M463.5 175.8 L481.0 167.6" fill="none" stroke="#4a4a4a" stroke-width="0.6" />
<path d="M317.0 255.8 L319.0 258.5" fill="none" stroke="#4a4a4a" stroke-width="0.7" />
<path d="M330.5 144.6 L436.5 96.2" fill="none" stroke="#777" stroke-width="0.5" />
<path d="M339.0 151.1 L446.2 104.5" fill="none" stroke="#6e6e6e" stroke-width="1.8" stroke-linecap="butt" stroke-linejoin="round"/>
<path d="M339.0 151.1 L446.2 104.5" fill="none" stroke="#d8d8d8" stroke-width="0.8" stroke-linecap="butt" stroke-linejoin="round"/>
<path d="M342.5 154.1 L449.7 107.5" fill="none" stroke="#4a4a4a" stroke-width="0.6" />
<path d="M345.9 157.8 L452.6 111.9" fill="none" stroke="#b5b5b5" stroke-width="2.6" />
<path d="M344.8 156.4 L452.0 110.5" fill="none" stroke="#4a4a4a" stroke-width="0.6" />
<path d="M347.1 159.2 L453.2 113.3" fill="none" stroke="#4a4a4a" stroke-width="0.6" />
<path d="M347.8 147.7 L359.7 158.0 L359.9 167.1" fill="none" stroke="#6e6e6e" stroke-width="2.0" stroke-linecap="butt" stroke-linejoin="round"/>
<path d="M347.8 147.7 L359.7 158.0 L359.9 167.1" fill="none" stroke="#d8d8d8" stroke-width="1.0" stroke-linecap="butt" stroke-linejoin="round"/>
<path d="M341.8 148.9 Q341.6 144.1 345.1 144.0 Q348.2 144.0 348.1 147.9" fill="none" stroke="#777" stroke-width="1.9" />
<path d="M341.8 148.9 Q341.6 144.1 345.1 144.0 Q348.2 144.0 348.1 147.9" fill="none" stroke="#ddd" stroke-width="0.9" />
<path d="M370.3 136.6 L382.6 146.8 L382.8 155.9" fill="none" stroke="#6e6e6e" stroke-width="2.0" stroke-linecap="butt" stroke-linejoin="round"/>
<path d="M370.3 136.6 L382.6 146.8 L382.8 155.9" fill="none" stroke="#d8d8d8" stroke-width="1.0" stroke-linecap="butt" stroke-linejoin="round"/>
<path d="M364.3 137.8 Q364.1 133.0 367.6 132.9 Q370.7 132.9 370.6 136.8" fill="none" stroke="#777" stroke-width="1.9" />
<path d="M364.3 137.8 Q364.1 133.0 367.6 132.9 Q370.7 132.9 370.6 136.8" fill="none" stroke="#ddd" stroke-width="0.9" />
<path d="M394.2 126.0 L405.9 136.0 L406.1 145.1" fill="none" stroke="#6e6e6e" stroke-width="2.0" stroke-linecap="butt" stroke-linejoin="round"/>
<path d="M394.2 126.0 L405.9 136.0 L406.1 145.1" fill="none" stroke="#d8d8d8" stroke-width="1.0" stroke-linecap="butt" stroke-linejoin="round"/>
<path d="M388.2 127.2 Q388.0 122.4 391.5 122.3 Q394.6 122.3 394.5 126.2" fill="none" stroke="#777" stroke-width="1.9" />
<path d="M388.2 127.2 Q388.0 122.4 391.5 122.3 Q394.6 122.3 394.5 126.2" fill="none" stroke="#ddd" stroke-width="0.9" />
<path d="M418.6 114.9 L431.5 124.0 L431.7 133.1" fill="none" stroke="#6e6e6e" stroke-width="2.0" stroke-linecap="butt" stroke-linejoin="round"/>
<path d="M418.6 114.9 L431.5 124.0 L431.7 133.1" fill="none" stroke="#d8d8d8" stroke-width="1.0" stroke-linecap="butt" stroke-linejoin="round"/>
<path d="M412.6 116.1 Q412.4 111.3 415.9 111.2 Q419.0 111.2 418.9 115.1" fill="none" stroke="#777" stroke-width="1.9" />
<path d="M412.6 116.1 Q412.4 111.3 415.9 111.2 Q419.0 111.2 418.9 115.1" fill="none" stroke="#ddd" stroke-width="0.9" />
<path d="M437.3 105.8 L449.0 112.9 L449.2 125.5" fill="none" stroke="#6e6e6e" stroke-width="2.0" stroke-linecap="butt" stroke-linejoin="round"/>
<path d="M437.3 105.8 L449.0 112.9 L449.2 125.5" fill="none" stroke="#d8d8d8" stroke-width="1.0" stroke-linecap="butt" stroke-linejoin="round"/>
<path d="M431.3 107.0 Q431.1 102.2 434.6 102.1 Q437.7 102.1 437.6 106.0" fill="none" stroke="#777" stroke-width="1.9" />
<path d="M431.3 107.0 Q431.1 102.2 434.6 102.1 Q437.7 102.1 437.6 106.0" fill="none" stroke="#ddd" stroke-width="0.9" />
<path d="M455.0 83.0 L488.8 106.5" fill="none" stroke="#4a4a4a" stroke-width="0.7" />
<path d="M476.0 73.3 L510.7 58.0 L537.3 77.3 L504.0 92.0 L476.0 73.3" fill="none" stroke="#4a4a4a" stroke-width="0.7" />
<path d="M478.5 73.6 L504.2 90.6 L535.0 77.0" fill="none" stroke="#4a4a4a" stroke-width="0.7" />
<path d="M501.1 79.7 L495.6 74.2 L510.3 68.3 L517.0 73.4" fill="none" stroke="#777" stroke-width="2.0" stroke-linecap="butt" stroke-linejoin="round"/>
<path d="M501.1 79.7 L495.6 74.2 L510.3 68.3 L517.0 73.4" fill="none" stroke="#eee" stroke-width="1.0" stroke-linecap="butt" stroke-linejoin="round"/>
<path d="M485.5 111.9 L480.9 172.5" fill="none" stroke="#4a4a4a" stroke-width="0.7" />
<path d="M489.9 108.5 L484.9 171.8" fill="none" stroke="#333" stroke-width="1.0" />
<path d="M569.9 71.4 L576.3 128.3" fill="none" stroke="#4a4a4a" stroke-width="0.7" />
<path d="M572.9 70.3 L578.2 126.6 L576.8 128.3" fill="none" stroke="#4a4a4a" stroke-width="0.7" />
<path d="M567.2 73.5 L569.0 88.0 L574.3 124.0" fill="none" stroke="#4a4a4a" stroke-width="0.7" />
<rect x="574.3" y="90.3" width="1.6" height="4.2" fill="#222"/>
<path d="M490.2 111.2 L568.0 73.6" fill="none" stroke="#4a4a4a" stroke-width="0.7" />
<path d="M489.4 122.2 L497.0 119.6 L505.7 119.1" fill="none" stroke="#4a4a4a" stroke-width="0.7" />
<path d="M489.0 125.5 L497.0 122.6 L506.0 121.5" fill="none" stroke="#4a4a4a" stroke-width="0.6" />
<path d="M505.7 119.1 L574.5 90.7" fill="none" stroke="#333" stroke-width="0.9" />
<path d="M527.5 112.3 L571.7 94.4" fill="none" stroke="#4a4a4a" stroke-width="0.6" />
<path d="M488.0 142.3 L497.0 139.0 L506.0 137.7 L519.4 135.6 L575.4 111.8" fill="none" stroke="#333" stroke-width="0.9" />
<path d="M487.6 146.0 L497.0 142.6 L507.0 140.8 L520.0 138.6 L575.8 114.8" fill="none" stroke="#4a4a4a" stroke-width="0.6" />
<path d="M500.2 104.8 L504.8 119.1 L506.6 118.2 L502.9 103.6" fill="none" stroke="#4a4a4a" stroke-width="0.6" />
<path d="M523.1 94.2 L527.3 109.0 L529.5 108.1 L525.9 93.0" fill="none" stroke="#4a4a4a" stroke-width="0.6" />
<path d="M544.2 84.4 L548.3 98.9 L550.6 98.0 L547.0 83.2" fill="none" stroke="#4a4a4a" stroke-width="0.6" />
<path d="M566.0 74.6 L569.0 88.5" fill="none" stroke="#4a4a4a" stroke-width="0.6" />
<path d="M504.8 139.0 L507.4 160.0 L510.2 158.6 L509.0 137.6" fill="none" stroke="#4a4a4a" stroke-width="0.6" />
<path d="M529.5 132.0 L532.2 147.9 L535.0 146.6 L535.0 130.1" fill="none" stroke="#4a4a4a" stroke-width="0.6" />
<path d="M553.4 121.9 L556.1 136.4 L558.9 135.1 L558.9 119.8" fill="none" stroke="#4a4a4a" stroke-width="0.6" />
<ellipse cx="512.3" cy="127.6" rx="8.8" ry="10" fill="#fff" stroke="#4a4a4a" stroke-width="0.7"/>
<ellipse cx="517.6" cy="125.6" rx="8.8" ry="10" fill="#fff" stroke="#4a4a4a" stroke-width="0.7"/>
<path d="M511.2 117.7 L516.5 115.7" fill="none" stroke="#4a4a4a" stroke-width="0.6" />
<path d="M513.4 137.5 L518.7 135.5" fill="none" stroke="#222" stroke-width="0.9" />
<circle cx="518.2" cy="125.2" r="1.0" fill="#fff" stroke="#4a4a4a" stroke-width="0.7"/>
<path d="M525.9 120.0 L545.1 108.1" fill="none" stroke="#4a4a4a" stroke-width="0.6" />
<path d="M526.4 116.0 L531.0 114.2 L535.0 117.3" fill="none" stroke="#4a4a4a" stroke-width="0.7" />
<path d="M535.0 117.3 L547.0 113.6 L547.3 116.2 L535.3 120.0 L535.0 117.3" fill="none" stroke="#4a4a4a" stroke-width="0.6" />
<circle cx="549.7" cy="103.9" r="5.0" fill="#fff" stroke="#4a4a4a" stroke-width="0.7"/>
<circle cx="549.7" cy="103.9" r="2.2" fill="none" stroke="#4a4a4a" stroke-width="0.7"/>
<path d="M38.0 213.5 L89.5 213.5" fill="none" stroke="#8c8c8c" stroke-width="1.0"/>
<path d="M89.5 213.5 L120.6 243.0" fill="none" stroke="#666" stroke-width="0.6"/>
<path d="M400.0 28.8 L453.8 28.8" fill="none" stroke="#8c8c8c" stroke-width="1.0"/>
<path d="M453.8 28.8 L521.3 50.0" fill="none" stroke="#666" stroke-width="0.6"/>
<path d="M310.0 88.3 L372.5 88.3" fill="none" stroke="#8c8c8c" stroke-width="1.0"/>
<path d="M372.5 88.3 L395.0 135.0" fill="none" stroke="#666" stroke-width="0.6"/>
<path d="M323.0 240.0 L388.8 299.5" fill="none" stroke="#666" stroke-width="0.6"/>
<path d="M388.8 299.5 L498.8 299.5" fill="none" stroke="#8c8c8c" stroke-width="1.0"/>
<path d="M113.5 350.2 L159.5 384.0" fill="none" stroke="#666" stroke-width="0.6"/>
<path d="M159.5 384.0 L233.8 384.0" fill="none" stroke="#8c8c8c" stroke-width="1.0"/>
<path d="M396.0 215.5 L453.3 251.8" fill="none" stroke="#666" stroke-width="0.6"/>
<path d="M453.3 251.8 L495.5 251.8" fill="none" stroke="#8c8c8c" stroke-width="1.0"/>
<path d="M438.1 197.5 L474.3 236.0" fill="none" stroke="#666" stroke-width="0.6"/>
<path d="M474.3 236.0 L524.5 236.0" fill="none" stroke="#8c8c8c" stroke-width="1.0"/>
<path d="M418.3 206.8 L474.3 236.0" fill="none" stroke="#666" stroke-width="0.6"/>
<path d="M345.7 248 L385.5 227.8" stroke="#444" stroke-width="0.6" fill="none"/>
<circle cx="345.7" cy="248" r="0.8" fill="#333"/>
<path d="M383 227.2 L387.5 226.6 L384.4 229.9Z" fill="#999"/>
<g filter="url(#tb)" font-family="'Liberation Serif','Noto Serif CJK SC',serif" font-size="9.1" fill="#303030">
<text x="39" y="208.4">头部检视口</text>
<text x="408.6" y="25.1">尾部</text>
<rect x="409.3" y="34.5" width="1.4" height="1.4" fill="#303030"/>
<text x="413.9" y="41">壳体</text>
<rect x="409.3" y="49.5" width="1.4" height="1.4" fill="#303030"/>
<text x="413.9" y="56">尾轴总成</text>
<rect x="409.3" y="64.5" width="1.4" height="1.4" fill="#303030"/>
<text x="413.9" y="71">张紧装置</text>
<text x="313.9" y="85.1">输送链</text>
<text x="404.5" y="296">中间机壳</text>
<rect x="403.6" y="304.9" width="1.4" height="1.4" fill="#303030"/>
<text x="408.4" y="311.6">刚性好，不易变形</text>
<rect x="403.6" y="320.2" width="1.4" height="1.4" fill="#303030"/>
<text x="408.3" y="326.9">完全密封，防水防尘</text>
<rect x="403.6" y="335.4" width="1.4" height="1.4" fill="#303030"/>
<text x="408.3" y="342.1">可任意设进出料口</text>
<rect x="403.6" y="350.7" width="1.4" height="1.4" fill="#303030"/>
<text x="408.3" y="357.3">可按任意长度连接</text>
<text x="165.2" y="380.3">头部</text>
<rect x="165.1" y="389.3" width="1.4" height="1.4" fill="#303030"/>
<text x="170.3" y="396">壳体</text>
<rect x="165.1" y="404.3" width="1.4" height="1.4" fill="#303030"/>
<text x="170.3" y="411">头轴总成</text>
<rect x="165.1" y="419.3" width="1.4" height="1.4" fill="#303030"/>
<text x="170.3" y="426">卸料口</text>
<rect x="165.1" y="434.3" width="1.4" height="1.4" fill="#303030"/>
<text x="170.3" y="441">托轮总成</text>
<text x="459" y="249.3">物料</text>
<text x="499.1" y="233.1">导轨</text>
<text x="0" y="0" font-size="7.3" fill="#444" transform="translate(355.8 252.6) rotate(-23) skewX(-18)">物料流动方向</text>
</g>
</svg>
</body></html>
